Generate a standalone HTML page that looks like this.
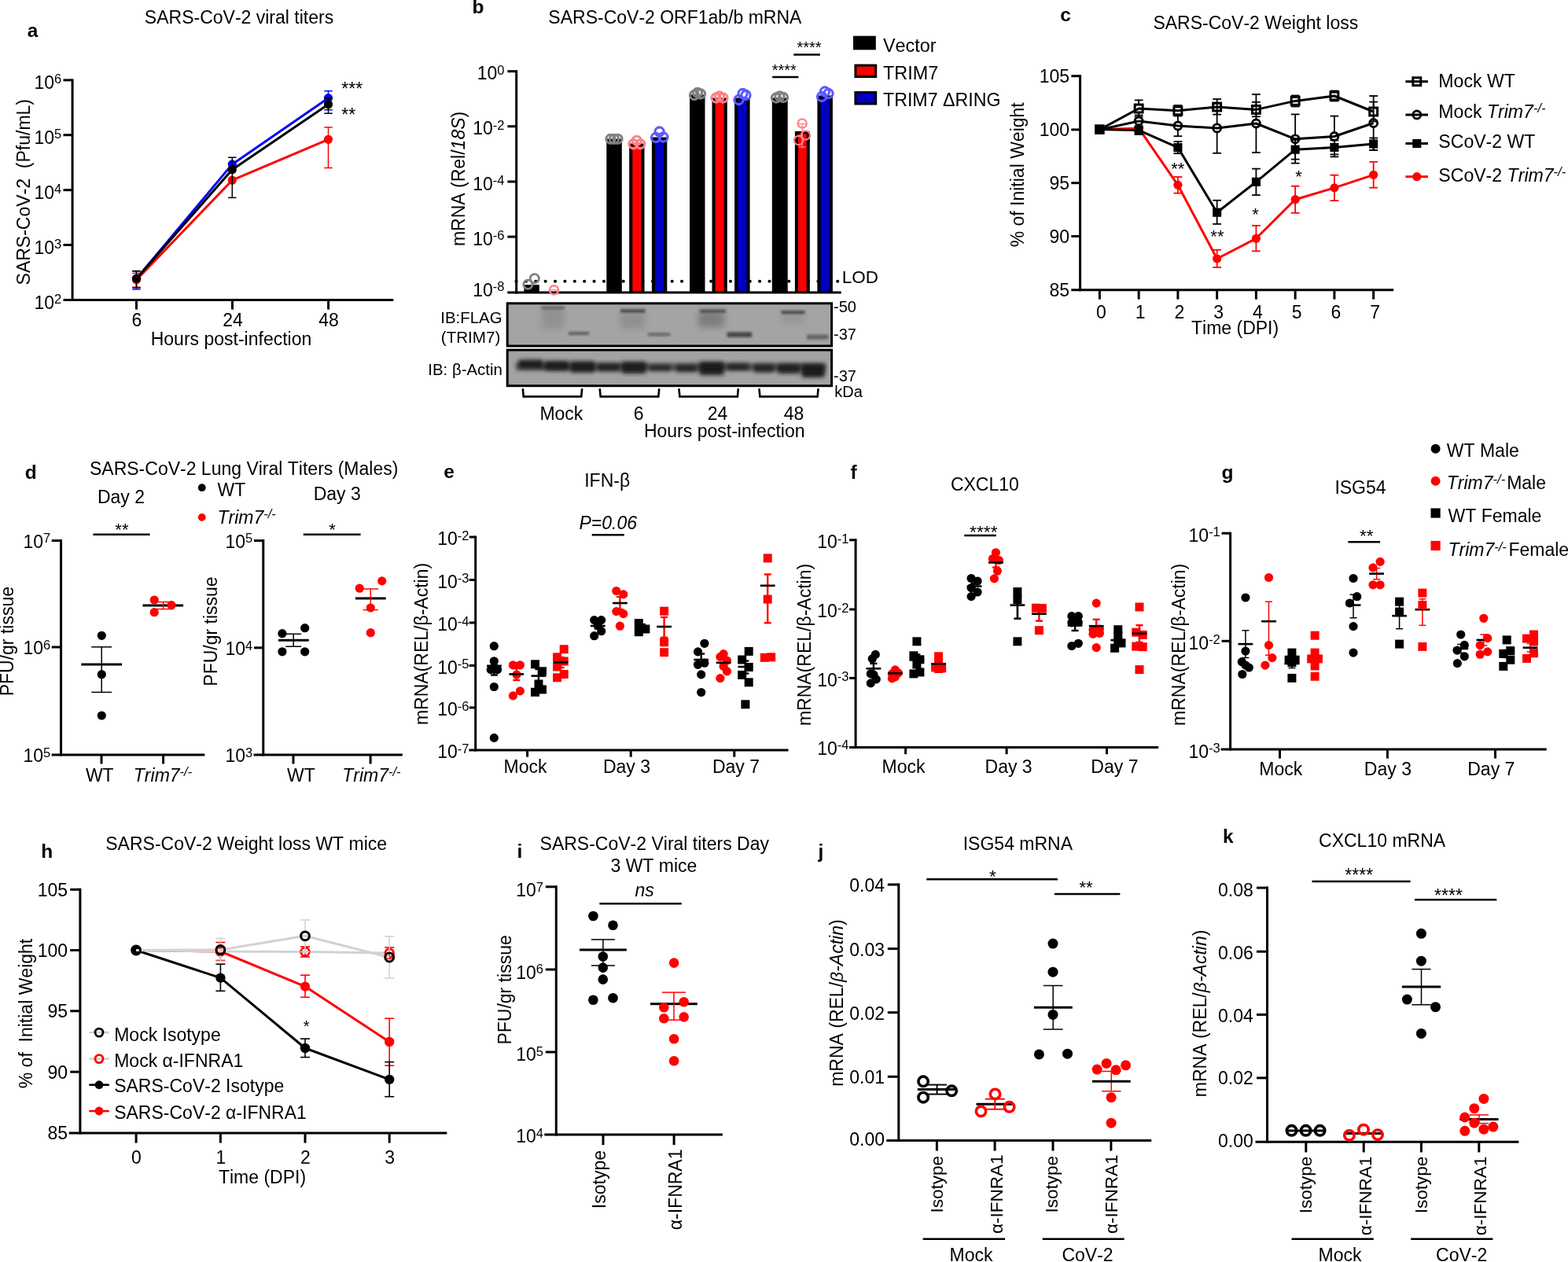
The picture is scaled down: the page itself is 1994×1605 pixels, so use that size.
<!DOCTYPE html>
<html lang="en">
<head>
<meta charset="utf-8">
<title>SARS-CoV-2 TRIM7 figure</title>
<style>
html,body{margin:0;padding:0;background:#fff;}
body{width:1994px;height:1605px;overflow:hidden;}
svg{display:block;}
svg text{font-family:"Liberation Sans",Arial,Helvetica,sans-serif;fill:#000;font-kerning:none;}
</style>
</head>
<body>
<svg xmlns="http://www.w3.org/2000/svg" width="1994" height="1605" viewBox="0 0 1994 1605" font-size="23">
<defs>
<filter id="b1" x="-20%" y="-100%" width="140%" height="300%"><feGaussianBlur stdDeviation="1.6"/></filter>
<filter id="b2" x="-20%" y="-100%" width="140%" height="300%"><feGaussianBlur stdDeviation="2.6"/></filter>
<filter id="b3" x="-30%" y="-100%" width="160%" height="300%"><feGaussianBlur stdDeviation="4.5"/></filter>
<clipPath id="cb1"><rect x="645" y="386" width="413" height="54"/></clipPath>
<clipPath id="cb2"><rect x="645" y="446" width="413" height="45"/></clipPath>
</defs>
<rect width="1994" height="1605" fill="#fff"/>
<g id="panel-a">
<text x="34.8" y="47.4" font-size="24.5" font-weight="bold">a</text>
<text x="304" y="30" text-anchor="middle">SARS-CoV-2 viral titers</text>
<line x1="92.1" y1="100.4" x2="92.1" y2="383.1" stroke="#000" stroke-width="3"/>
<line x1="80.5" y1="101.9" x2="92.1" y2="101.9" stroke="#000" stroke-width="3"/>
<line x1="80.5" y1="171.7" x2="92.1" y2="171.7" stroke="#000" stroke-width="3"/>
<line x1="80.5" y1="241.7" x2="92.1" y2="241.7" stroke="#000" stroke-width="3"/>
<line x1="80.5" y1="311.5" x2="92.1" y2="311.5" stroke="#000" stroke-width="3"/>
<line x1="80.5" y1="381.6" x2="500.3" y2="381.6" stroke="#000" stroke-width="3"/>
<line x1="173.5" y1="381.6" x2="173.5" y2="393.6" stroke="#000" stroke-width="3"/>
<line x1="295.5" y1="381.6" x2="295.5" y2="393.6" stroke="#000" stroke-width="3"/>
<line x1="417.6" y1="381.6" x2="417.6" y2="393.6" stroke="#000" stroke-width="3"/>
<text x="78.3" y="113.1" text-anchor="end">10<tspan font-size="16.5" dy="-6.7">6</tspan></text>
<text x="78.3" y="182.9" text-anchor="end">10<tspan font-size="16.5" dy="-6.7">5</tspan></text>
<text x="78.3" y="252.9" text-anchor="end">10<tspan font-size="16.5" dy="-6.7">4</tspan></text>
<text x="78.3" y="322.7" text-anchor="end">10<tspan font-size="16.5" dy="-6.7">3</tspan></text>
<text x="78.3" y="392.8" text-anchor="end">10<tspan font-size="16.5" dy="-6.7">2</tspan></text>
<text x="174" y="414.7" text-anchor="middle">6</text>
<text x="296" y="414.7" text-anchor="middle">24</text>
<text x="418.1" y="414.7" text-anchor="middle">48</text>
<text x="294" y="439.3" text-anchor="middle">Hours post-infection</text>
<text x="37.6" y="244.2" text-anchor="middle" transform="rotate(-90 37.6 244.2)" xml:space="preserve">SARS-CoV-2  (Pfu/mL)</text>
<line x1="173.5" y1="344.9" x2="173.5" y2="367.9" stroke="#0000ff" stroke-width="1.5"/>
<line x1="168.25" y1="344.9" x2="178.75" y2="344.9" stroke="#0000ff" stroke-width="1.5"/>
<line x1="168.25" y1="367.9" x2="178.75" y2="367.9" stroke="#0000ff" stroke-width="1.5"/>
<line x1="417.5" y1="115.7" x2="417.5" y2="139.7" stroke="#0000ff" stroke-width="1.5"/>
<line x1="412.25" y1="115.7" x2="422.75" y2="115.7" stroke="#0000ff" stroke-width="1.5"/>
<line x1="412.25" y1="139.7" x2="422.75" y2="139.7" stroke="#0000ff" stroke-width="1.5"/>
<polyline points="173.5,354.4 295.3,208.9 417.5,124.7" fill="none" stroke="#0000ff" stroke-width="3" stroke-linejoin="round"/>
<circle cx="173.5" cy="354.4" r="5.6" fill="#0000ff"/>
<circle cx="295.3" cy="208.9" r="5.6" fill="#0000ff"/>
<circle cx="417.5" cy="124.7" r="5.6" fill="#0000ff"/>
<line x1="173.5" y1="347.5" x2="173.5" y2="365.3" stroke="#ff0000" stroke-width="1.5"/>
<line x1="168.25" y1="347.5" x2="178.75" y2="347.5" stroke="#ff0000" stroke-width="1.5"/>
<line x1="168.25" y1="365.3" x2="178.75" y2="365.3" stroke="#ff0000" stroke-width="1.5"/>
<line x1="417.5" y1="161.9" x2="417.5" y2="213.5" stroke="#ff0000" stroke-width="1.5"/>
<line x1="412.25" y1="161.9" x2="422.75" y2="161.9" stroke="#ff0000" stroke-width="1.5"/>
<line x1="412.25" y1="213.5" x2="422.75" y2="213.5" stroke="#ff0000" stroke-width="1.5"/>
<polyline points="173.5,355.9 295.3,229.2 417.5,177.3" fill="none" stroke="#ff0000" stroke-width="3" stroke-linejoin="round"/>
<circle cx="173.5" cy="355.9" r="5.6" fill="#ff0000"/>
<circle cx="295.3" cy="229.2" r="5.6" fill="#ff0000"/>
<circle cx="417.5" cy="177.3" r="5.6" fill="#ff0000"/>
<line x1="173.5" y1="344.6" x2="173.5" y2="365.8" stroke="#000" stroke-width="1.5"/>
<line x1="168.25" y1="344.6" x2="178.75" y2="344.6" stroke="#000" stroke-width="1.5"/>
<line x1="168.25" y1="365.8" x2="178.75" y2="365.8" stroke="#000" stroke-width="1.5"/>
<line x1="295.3" y1="200.2" x2="295.3" y2="251.4" stroke="#000" stroke-width="1.5"/>
<line x1="290.05" y1="200.2" x2="300.55" y2="200.2" stroke="#000" stroke-width="1.5"/>
<line x1="290.05" y1="251.4" x2="300.55" y2="251.4" stroke="#000" stroke-width="1.5"/>
<line x1="417.5" y1="124.9" x2="417.5" y2="144.2" stroke="#000" stroke-width="1.5"/>
<line x1="412.25" y1="124.9" x2="422.75" y2="124.9" stroke="#000" stroke-width="1.5"/>
<line x1="412.25" y1="144.2" x2="422.75" y2="144.2" stroke="#000" stroke-width="1.5"/>
<polyline points="173.5,354.3 295.3,215.7 417.5,132.7" fill="none" stroke="#000" stroke-width="3" stroke-linejoin="round"/>
<circle cx="173.5" cy="354.3" r="5.6" fill="#000"/>
<circle cx="295.3" cy="215.7" r="5.6" fill="#000"/>
<circle cx="417.5" cy="132.7" r="5.6" fill="#000"/>
<text x="434.3" y="120.56">***</text>
<text x="434.3" y="154.06">**</text>
</g>
<g id="panel-b">
<text x="600.6" y="16.6" font-size="24.5" font-weight="bold">b</text>
<text x="858.4" y="30.1" text-anchor="middle">SARS-CoV-2 ORF1ab/b mRNA</text>
<circle cx="656.5" cy="357.8" r="2.05" fill="#000"/>
<circle cx="668.88" cy="357.8" r="2.05" fill="#000"/>
<circle cx="681.27" cy="357.8" r="2.05" fill="#000"/>
<circle cx="693.65" cy="357.8" r="2.05" fill="#000"/>
<circle cx="706.04" cy="357.8" r="2.05" fill="#000"/>
<circle cx="718.42" cy="357.8" r="2.05" fill="#000"/>
<circle cx="730.81" cy="357.8" r="2.05" fill="#000"/>
<circle cx="743.19" cy="357.8" r="2.05" fill="#000"/>
<circle cx="755.58" cy="357.8" r="2.05" fill="#000"/>
<circle cx="767.96" cy="357.8" r="2.05" fill="#000"/>
<circle cx="780.35" cy="357.8" r="2.05" fill="#000"/>
<circle cx="792.73" cy="357.8" r="2.05" fill="#000"/>
<circle cx="805.12" cy="357.8" r="2.05" fill="#000"/>
<circle cx="817.5" cy="357.8" r="2.05" fill="#000"/>
<circle cx="829.89" cy="357.8" r="2.05" fill="#000"/>
<circle cx="842.27" cy="357.8" r="2.05" fill="#000"/>
<circle cx="854.66" cy="357.8" r="2.05" fill="#000"/>
<circle cx="867.04" cy="357.8" r="2.05" fill="#000"/>
<circle cx="879.43" cy="357.8" r="2.05" fill="#000"/>
<circle cx="891.81" cy="357.8" r="2.05" fill="#000"/>
<circle cx="904.2" cy="357.8" r="2.05" fill="#000"/>
<circle cx="916.58" cy="357.8" r="2.05" fill="#000"/>
<circle cx="928.97" cy="357.8" r="2.05" fill="#000"/>
<circle cx="941.35" cy="357.8" r="2.05" fill="#000"/>
<circle cx="953.74" cy="357.8" r="2.05" fill="#000"/>
<circle cx="966.12" cy="357.8" r="2.05" fill="#000"/>
<circle cx="978.51" cy="357.8" r="2.05" fill="#000"/>
<circle cx="990.89" cy="357.8" r="2.05" fill="#000"/>
<circle cx="1003.28" cy="357.8" r="2.05" fill="#000"/>
<circle cx="1015.66" cy="357.8" r="2.05" fill="#000"/>
<circle cx="1028.05" cy="357.8" r="2.05" fill="#000"/>
<circle cx="1040.43" cy="357.8" r="2.05" fill="#000"/>
<circle cx="1052.82" cy="357.8" r="2.05" fill="#000"/>
<circle cx="1065.2" cy="357.8" r="2.05" fill="#000"/>
<text x="1070.7" y="360.4" font-size="22.5">LOD</text>
<rect x="666.4" y="362.2" width="19.4" height="9.7" fill="#000"/>
<rect x="771.3" y="176.5" width="19.5" height="195.4" fill="#000"/>
<rect x="800.2" y="182.5" width="19.3" height="189.4" fill="#000"/>
<rect x="804.3" y="186.1" width="11.1" height="185.8" fill="#ff0000"/>
<rect x="828.9" y="174.5" width="19.4" height="197.4" fill="#000"/>
<rect x="833" y="178.1" width="11.2" height="193.8" fill="#0000c0"/>
<rect x="877" y="120.4" width="19.5" height="251.5" fill="#000"/>
<rect x="905.5" y="124.4" width="19.3" height="247.5" fill="#000"/>
<rect x="909.6" y="128" width="11.1" height="243.9" fill="#ff0000"/>
<rect x="934.1" y="124.4" width="19.5" height="247.5" fill="#000"/>
<rect x="938.2" y="128" width="11.3" height="243.9" fill="#0000c0"/>
<rect x="981.8" y="124.4" width="19.9" height="247.5" fill="#000"/>
<rect x="1010.9" y="166.9" width="18.9" height="205" fill="#000"/>
<rect x="1015" y="170.5" width="10.7" height="201.4" fill="#ff0000"/>
<rect x="1039.4" y="121.4" width="19.5" height="250.5" fill="#000"/>
<rect x="1043.5" y="125" width="11.3" height="246.9" fill="#0000c0"/>
<line x1="656.7" y1="89.2" x2="656.7" y2="373.4" stroke="#000" stroke-width="3"/>
<line x1="645.4" y1="90.7" x2="656.7" y2="90.7" stroke="#000" stroke-width="3"/>
<line x1="645.4" y1="160.7" x2="656.7" y2="160.7" stroke="#000" stroke-width="3"/>
<line x1="645.4" y1="231" x2="656.7" y2="231" stroke="#000" stroke-width="3"/>
<line x1="645.4" y1="301.1" x2="656.7" y2="301.1" stroke="#000" stroke-width="3"/>
<line x1="645.3" y1="371.9" x2="1069.7" y2="371.9" stroke="#000" stroke-width="3"/>
<text x="641.5" y="101.4" text-anchor="end">10<tspan font-size="16.5" dy="-6.7">0</tspan></text>
<text x="641.5" y="171.4" text-anchor="end">10<tspan font-size="16.5" dy="-6.7">-2</tspan></text>
<text x="641.5" y="241.7" text-anchor="end">10<tspan font-size="16.5" dy="-6.7">-4</tspan></text>
<text x="641.5" y="311.8" text-anchor="end">10<tspan font-size="16.5" dy="-6.7">-6</tspan></text>
<text x="641.5" y="377.1" text-anchor="end">10<tspan font-size="16.5" dy="-6.7">-8</tspan></text>
<text x="591.2" y="227.4" text-anchor="middle" transform="rotate(-90 591.2 227.4)">mRNA (Rel/<tspan font-style="italic">18S</tspan>)</text>
<circle cx="671.4" cy="361.8" r="5.6" fill="none" stroke="#808080" stroke-width="2.8"/>
<circle cx="679.8" cy="354.2" r="5.6" fill="none" stroke="#808080" stroke-width="2.8"/>
<circle cx="704.5" cy="368.9" r="5.6" fill="none" stroke="#ff8088" stroke-width="2.4"/>
<line x1="700" y1="368.7" x2="709" y2="368.7" stroke="#ff8088" stroke-width="1.3"/>
<circle cx="776.5" cy="176.8" r="5.6" fill="none" stroke="#808080" stroke-width="3.1"/>
<circle cx="781" cy="176.8" r="5.6" fill="none" stroke="#808080" stroke-width="3.1"/>
<circle cx="785.5" cy="176.8" r="5.6" fill="none" stroke="#808080" stroke-width="3.1"/>
<circle cx="805.5" cy="183.3" r="5.6" fill="none" stroke="#ff8088" stroke-width="3.1"/>
<circle cx="809.8" cy="178.8" r="5.6" fill="none" stroke="#ff8088" stroke-width="3.1"/>
<circle cx="814.2" cy="183.3" r="5.6" fill="none" stroke="#ff8088" stroke-width="3.1"/>
<circle cx="838.6" cy="167.5" r="5.6" fill="none" stroke="#5a5aff" stroke-width="3.1"/>
<circle cx="834" cy="175" r="5.6" fill="none" stroke="#5a5aff" stroke-width="3.1"/>
<circle cx="843.5" cy="174.5" r="5.6" fill="none" stroke="#5a5aff" stroke-width="3.1"/>
<circle cx="883" cy="121" r="5.6" fill="none" stroke="#808080" stroke-width="3.1"/>
<circle cx="887" cy="118" r="5.6" fill="none" stroke="#808080" stroke-width="3.1"/>
<circle cx="891" cy="119.5" r="5.6" fill="none" stroke="#808080" stroke-width="3.1"/>
<circle cx="910.5" cy="124.5" r="5.6" fill="none" stroke="#ff8088" stroke-width="3.1"/>
<circle cx="915" cy="122.5" r="5.6" fill="none" stroke="#ff8088" stroke-width="3.1"/>
<circle cx="919.5" cy="124.5" r="5.6" fill="none" stroke="#ff8088" stroke-width="3.1"/>
<circle cx="939.5" cy="127" r="5.6" fill="none" stroke="#5a5aff" stroke-width="3.1"/>
<circle cx="944.5" cy="119" r="5.6" fill="none" stroke="#5a5aff" stroke-width="3.1"/>
<circle cx="948.5" cy="121" r="5.6" fill="none" stroke="#5a5aff" stroke-width="3.1"/>
<circle cx="987" cy="124.5" r="5.6" fill="none" stroke="#808080" stroke-width="3.1"/>
<circle cx="991.5" cy="122.5" r="5.6" fill="none" stroke="#808080" stroke-width="3.1"/>
<circle cx="996" cy="124" r="5.6" fill="none" stroke="#808080" stroke-width="3.1"/>
<line x1="1020.3" y1="157" x2="1020.3" y2="187" stroke="#ff8088" stroke-width="1.3"/>
<line x1="1016" y1="187" x2="1024.5" y2="187" stroke="#ff8088" stroke-width="1.3"/>
<line x1="1016" y1="157.5" x2="1024.5" y2="157.5" stroke="#ff8088" stroke-width="1.3"/>
<circle cx="1020.2" cy="157" r="5.6" fill="none" stroke="#ff8088" stroke-width="2.3"/>
<circle cx="1024.5" cy="172" r="5.6" fill="none" stroke="#ff8088" stroke-width="2.3"/>
<circle cx="1015.5" cy="178.5" r="5.6" fill="none" stroke="#ff8088" stroke-width="2.3"/>
<circle cx="1045" cy="123" r="5.6" fill="none" stroke="#5a5aff" stroke-width="3.1"/>
<circle cx="1049" cy="116.5" r="5.6" fill="none" stroke="#5a5aff" stroke-width="3.1"/>
<circle cx="1053.5" cy="119" r="5.6" fill="none" stroke="#5a5aff" stroke-width="3.1"/>
<line x1="982.2" y1="98.1" x2="1015.4" y2="98.1" stroke="#000" stroke-width="2.5"/>
<text x="997.3" y="96.2" font-size="20" text-anchor="middle">****</text>
<line x1="1009.3" y1="69.4" x2="1042.9" y2="69.4" stroke="#000" stroke-width="2.5"/>
<text x="1029" y="67.4" font-size="20" text-anchor="middle">****</text>
<rect x="1085" y="45.7" width="28.8" height="17.7" fill="#000"/>
<rect x="1087.9" y="83.1" width="25.8" height="14.5" fill="#ff0000" stroke="#000" stroke-width="3"/>
<rect x="1087.9" y="117.5" width="25.8" height="14.5" fill="#0000c0" stroke="#000" stroke-width="3"/>
<text x="1123" y="65.6" font-size="23.4">Vector</text>
<text x="1123" y="100.7" font-size="23.4">TRIM7</text>
<text x="1123" y="134.8" font-size="23.2">TRIM7 ΔRING</text>
<rect x="645.2" y="385.8" width="412.4" height="54.2" fill="#a4a4a4" stroke="#000" stroke-width="3"/>
<g clip-path="url(#cb1)">
<rect x="689" y="392" width="28" height="26" fill="#303030" opacity="0.16" filter="url(#b3)"/>
<rect x="688.5" y="389.7" width="29.5" height="3.6" fill="#101010" opacity="0.4" filter="url(#b1)"/>
<rect x="723" y="422.2" width="26" height="3.6" fill="#101010" opacity="0.5" filter="url(#b1)"/>
<rect x="789" y="398" width="31" height="20" fill="#303030" opacity="0.18" filter="url(#b3)"/>
<rect x="789" y="393.3" width="31.5" height="4.2" fill="#101010" opacity="0.62" filter="url(#b1)"/>
<rect x="824" y="423.6" width="28.5" height="3.6" fill="#101010" opacity="0.45" filter="url(#b1)"/>
<rect x="888" y="396" width="33" height="20" fill="#303030" opacity="0.34" filter="url(#b3)"/>
<rect x="890" y="393.5" width="33" height="4.2" fill="#101010" opacity="0.5" filter="url(#b1)"/>
<rect x="924.5" y="422.35" width="31.5" height="6.5" fill="#101010" opacity="0.62" filter="url(#b1)"/>
<rect x="994" y="400" width="28" height="12" fill="#303030" opacity="0.12" filter="url(#b3)"/>
<rect x="993.5" y="395.2" width="30" height="4" fill="#101010" opacity="0.62" filter="url(#b1)"/>
<rect x="1026" y="425.6" width="27.5" height="6" fill="#101010" opacity="0.42" filter="url(#b1)"/>
</g>
<rect x="645.2" y="445.1" width="412.4" height="45.6" fill="#a2a2a2" stroke="#000" stroke-width="3"/>
<g clip-path="url(#cb2)">
<rect x="659" y="457.5" width="32" height="11" rx="4" fill="#141414" opacity="0.92" filter="url(#b2)"/>
<rect x="692" y="459" width="32" height="12" rx="4" fill="#141414" opacity="0.9" filter="url(#b2)"/>
<rect x="725" y="459.5" width="32" height="14" rx="4" fill="#141414" opacity="0.9" filter="url(#b2)"/>
<rect x="759" y="462" width="30" height="10" rx="4" fill="#141414" opacity="0.8" filter="url(#b2)"/>
<rect x="790" y="460" width="32" height="15" rx="4" fill="#141414" opacity="0.88" filter="url(#b2)"/>
<rect x="825" y="464.5" width="29" height="7" rx="4" fill="#141414" opacity="0.78" filter="url(#b2)"/>
<rect x="859" y="464" width="28" height="9" rx="4" fill="#141414" opacity="0.78" filter="url(#b2)"/>
<rect x="889" y="460" width="32" height="17" rx="4" fill="#141414" opacity="0.92" filter="url(#b2)"/>
<rect x="924" y="462.5" width="29" height="8" rx="4" fill="#141414" opacity="0.82" filter="url(#b2)"/>
<rect x="958" y="463.5" width="27" height="10" rx="4" fill="#141414" opacity="0.82" filter="url(#b2)"/>
<rect x="988" y="463" width="30" height="12" rx="4" fill="#141414" opacity="0.86" filter="url(#b2)"/>
<rect x="1019" y="463" width="30" height="17" rx="4" fill="#141414" opacity="0.95" filter="url(#b2)"/>
<rect x="656" y="462" width="394" height="9" fill="#181818" opacity="0.55" filter="url(#b2)"/>
</g>
<text x="638.5" y="410.8" font-size="20.4" text-anchor="end">IB:FLAG</text>
<text x="636.3" y="435.5" font-size="20.6" text-anchor="end">(TRIM7)</text>
<text x="638.8" y="476.6" font-size="20.4" text-anchor="end">IB: β-Actin</text>
<text x="1060" y="397.4" font-size="20">-50</text>
<text x="1060" y="432.3" font-size="20">-37</text>
<text x="1060" y="484.6" font-size="20">-37</text>
<text x="1061.3" y="504.7" font-size="20">kDa</text>
<polyline points="664.8,494.2 665.8,504.4 739.2,504.4 740.2,494.2" fill="none" stroke="#000" stroke-width="2.6"/>
<polyline points="762.7,494.2 763.7,504.4 837.3,504.4 838.3,494.2" fill="none" stroke="#000" stroke-width="2.6"/>
<polyline points="863.4,494.2 864.4,504.4 937.9,504.4 938.9,494.2" fill="none" stroke="#000" stroke-width="2.6"/>
<polyline points="965.4,494.2 966.4,504.4 1039.6,504.4 1040.6,494.2" fill="none" stroke="#000" stroke-width="2.6"/>
<text x="713.9" y="533.8" text-anchor="middle">Mock</text>
<text x="812.2" y="533.8" text-anchor="middle">6</text>
<text x="912.6" y="533.8" text-anchor="middle">24</text>
<text x="1009.5" y="533.8" text-anchor="middle">48</text>
<text x="921.2" y="555.8" text-anchor="middle">Hours post-infection</text>
</g>
<g id="panel-c">
<text x="1348.2" y="26.5" font-size="24.5" font-weight="bold">c</text>
<text x="1596.8" y="36.7" text-anchor="middle">SARS-CoV-2 Weight loss</text>
<line x1="1373.6" y1="95.2" x2="1373.6" y2="370.3" stroke="#000" stroke-width="3"/>
<line x1="1362.3" y1="96.7" x2="1373.6" y2="96.7" stroke="#000" stroke-width="3"/>
<line x1="1362.3" y1="164.9" x2="1373.6" y2="164.9" stroke="#000" stroke-width="3"/>
<line x1="1362.3" y1="232.7" x2="1373.6" y2="232.7" stroke="#000" stroke-width="3"/>
<line x1="1362.3" y1="300.5" x2="1373.6" y2="300.5" stroke="#000" stroke-width="3"/>
<line x1="1362.3" y1="368.8" x2="1772.2" y2="368.8" stroke="#000" stroke-width="3"/>
<line x1="1398.4" y1="368.8" x2="1398.4" y2="380.7" stroke="#000" stroke-width="3"/>
<line x1="1448.15" y1="368.8" x2="1448.15" y2="380.7" stroke="#000" stroke-width="3"/>
<line x1="1497.9" y1="368.8" x2="1497.9" y2="380.7" stroke="#000" stroke-width="3"/>
<line x1="1547.65" y1="368.8" x2="1547.65" y2="380.7" stroke="#000" stroke-width="3"/>
<line x1="1597.4" y1="368.8" x2="1597.4" y2="380.7" stroke="#000" stroke-width="3"/>
<line x1="1647.15" y1="368.8" x2="1647.15" y2="380.7" stroke="#000" stroke-width="3"/>
<line x1="1696.9" y1="368.8" x2="1696.9" y2="380.7" stroke="#000" stroke-width="3"/>
<line x1="1746.65" y1="368.8" x2="1746.65" y2="380.7" stroke="#000" stroke-width="3"/>
<text x="1360" y="105" text-anchor="end">105</text>
<text x="1360" y="173.2" text-anchor="end">100</text>
<text x="1360" y="241" text-anchor="end">95</text>
<text x="1360" y="308.8" text-anchor="end">90</text>
<text x="1360" y="376.8" text-anchor="end">85</text>
<text x="1400.3" y="405" text-anchor="middle">0</text>
<text x="1450.05" y="405" text-anchor="middle">1</text>
<text x="1499.8" y="405" text-anchor="middle">2</text>
<text x="1549.55" y="405" text-anchor="middle">3</text>
<text x="1599.3" y="405" text-anchor="middle">4</text>
<text x="1649.05" y="405" text-anchor="middle">5</text>
<text x="1698.8" y="405" text-anchor="middle">6</text>
<text x="1748.55" y="405" text-anchor="middle">7</text>
<text x="1570.6" y="424.7" text-anchor="middle">Time (DPI)</text>
<text x="1302" y="222.3" text-anchor="middle" transform="rotate(-90 1302 222.3)">% of Initial Weight</text>
<line x1="1448.15" y1="160" x2="1448.15" y2="167" stroke="#ff0000" stroke-width="1.8"/>
<line x1="1442.75" y1="160" x2="1453.55" y2="160" stroke="#ff0000" stroke-width="1.8"/>
<line x1="1442.75" y1="167" x2="1453.55" y2="167" stroke="#ff0000" stroke-width="1.8"/>
<line x1="1497.9" y1="225" x2="1497.9" y2="245.7" stroke="#ff0000" stroke-width="1.8"/>
<line x1="1492.5" y1="225" x2="1503.3" y2="225" stroke="#ff0000" stroke-width="1.8"/>
<line x1="1492.5" y1="245.7" x2="1503.3" y2="245.7" stroke="#ff0000" stroke-width="1.8"/>
<line x1="1547.65" y1="317.8" x2="1547.65" y2="340" stroke="#ff0000" stroke-width="1.8"/>
<line x1="1542.25" y1="317.8" x2="1553.05" y2="317.8" stroke="#ff0000" stroke-width="1.8"/>
<line x1="1542.25" y1="340" x2="1553.05" y2="340" stroke="#ff0000" stroke-width="1.8"/>
<line x1="1597.4" y1="286.9" x2="1597.4" y2="319.4" stroke="#ff0000" stroke-width="1.8"/>
<line x1="1592" y1="286.9" x2="1602.8" y2="286.9" stroke="#ff0000" stroke-width="1.8"/>
<line x1="1592" y1="319.4" x2="1602.8" y2="319.4" stroke="#ff0000" stroke-width="1.8"/>
<line x1="1647.15" y1="236.7" x2="1647.15" y2="270.8" stroke="#ff0000" stroke-width="1.8"/>
<line x1="1641.75" y1="236.7" x2="1652.55" y2="236.7" stroke="#ff0000" stroke-width="1.8"/>
<line x1="1641.75" y1="270.8" x2="1652.55" y2="270.8" stroke="#ff0000" stroke-width="1.8"/>
<line x1="1696.9" y1="222.7" x2="1696.9" y2="255.2" stroke="#ff0000" stroke-width="1.8"/>
<line x1="1691.5" y1="222.7" x2="1702.3" y2="222.7" stroke="#ff0000" stroke-width="1.8"/>
<line x1="1691.5" y1="255.2" x2="1702.3" y2="255.2" stroke="#ff0000" stroke-width="1.8"/>
<line x1="1746.65" y1="205.8" x2="1746.65" y2="238.7" stroke="#ff0000" stroke-width="1.8"/>
<line x1="1741.25" y1="205.8" x2="1752.05" y2="205.8" stroke="#ff0000" stroke-width="1.8"/>
<line x1="1741.25" y1="238.7" x2="1752.05" y2="238.7" stroke="#ff0000" stroke-width="1.8"/>
<polyline points="1398.4,164.6 1448.15,163.2 1497.9,235.3 1547.65,329 1597.4,303.3 1647.15,253.7 1696.9,238.9 1746.65,222.3" fill="none" stroke="#ff0000" stroke-width="3" stroke-linejoin="round"/>
<circle cx="1398.4" cy="164.6" r="5.6" fill="#ff0000"/>
<circle cx="1448.15" cy="163.2" r="5.6" fill="#ff0000"/>
<circle cx="1497.9" cy="235.3" r="5.6" fill="#ff0000"/>
<circle cx="1547.65" cy="329" r="5.6" fill="#ff0000"/>
<circle cx="1597.4" cy="303.3" r="5.6" fill="#ff0000"/>
<circle cx="1647.15" cy="253.7" r="5.6" fill="#ff0000"/>
<circle cx="1696.9" cy="238.9" r="5.6" fill="#ff0000"/>
<circle cx="1746.65" cy="222.3" r="5.6" fill="#ff0000"/>
<line x1="1448.15" y1="162" x2="1448.15" y2="171" stroke="#000" stroke-width="1.8"/>
<line x1="1442.75" y1="162" x2="1453.55" y2="162" stroke="#000" stroke-width="1.8"/>
<line x1="1442.75" y1="171" x2="1453.55" y2="171" stroke="#000" stroke-width="1.8"/>
<line x1="1497.9" y1="180" x2="1497.9" y2="195.2" stroke="#000" stroke-width="1.8"/>
<line x1="1492.5" y1="180" x2="1503.3" y2="180" stroke="#000" stroke-width="1.8"/>
<line x1="1492.5" y1="195.2" x2="1503.3" y2="195.2" stroke="#000" stroke-width="1.8"/>
<line x1="1547.65" y1="254.8" x2="1547.65" y2="284.9" stroke="#000" stroke-width="1.8"/>
<line x1="1542.25" y1="254.8" x2="1553.05" y2="254.8" stroke="#000" stroke-width="1.8"/>
<line x1="1542.25" y1="284.9" x2="1553.05" y2="284.9" stroke="#000" stroke-width="1.8"/>
<line x1="1597.4" y1="214.6" x2="1597.4" y2="248.1" stroke="#000" stroke-width="1.8"/>
<line x1="1592" y1="214.6" x2="1602.8" y2="214.6" stroke="#000" stroke-width="1.8"/>
<line x1="1592" y1="248.1" x2="1602.8" y2="248.1" stroke="#000" stroke-width="1.8"/>
<line x1="1647.15" y1="178" x2="1647.15" y2="202.6" stroke="#000" stroke-width="1.8"/>
<line x1="1641.75" y1="178" x2="1652.55" y2="178" stroke="#000" stroke-width="1.8"/>
<line x1="1641.75" y1="202.6" x2="1652.55" y2="202.6" stroke="#000" stroke-width="1.8"/>
<line x1="1696.9" y1="178.5" x2="1696.9" y2="196.4" stroke="#000" stroke-width="1.8"/>
<line x1="1691.5" y1="178.5" x2="1702.3" y2="178.5" stroke="#000" stroke-width="1.8"/>
<line x1="1691.5" y1="196.4" x2="1702.3" y2="196.4" stroke="#000" stroke-width="1.8"/>
<line x1="1746.65" y1="175.5" x2="1746.65" y2="191" stroke="#000" stroke-width="1.8"/>
<line x1="1741.25" y1="175.5" x2="1752.05" y2="175.5" stroke="#000" stroke-width="1.8"/>
<line x1="1741.25" y1="191" x2="1752.05" y2="191" stroke="#000" stroke-width="1.8"/>
<polyline points="1398.4,164.6 1448.15,165.7 1497.9,187.6 1547.65,270.2 1597.4,231.3 1647.15,190.2 1696.9,187.4 1746.65,183" fill="none" stroke="#000" stroke-width="3" stroke-linejoin="round"/>
<rect x="1392.85" y="159.05" width="11.1" height="11.1" fill="#000"/>
<rect x="1442.6" y="160.15" width="11.1" height="11.1" fill="#000"/>
<rect x="1492.35" y="182.05" width="11.1" height="11.1" fill="#000"/>
<rect x="1542.1" y="264.65" width="11.1" height="11.1" fill="#000"/>
<rect x="1591.85" y="225.75" width="11.1" height="11.1" fill="#000"/>
<rect x="1641.6" y="184.65" width="11.1" height="11.1" fill="#000"/>
<rect x="1691.35" y="181.85" width="11.1" height="11.1" fill="#000"/>
<rect x="1741.1" y="177.45" width="11.1" height="11.1" fill="#000"/>
<line x1="1448.15" y1="146.5" x2="1448.15" y2="148.5" stroke="#000" stroke-width="1.8"/>
<line x1="1442.75" y1="146.5" x2="1453.55" y2="146.5" stroke="#000" stroke-width="1.8"/>
<line x1="1448.15" y1="159.5" x2="1448.15" y2="161.5" stroke="#000" stroke-width="1.8"/>
<line x1="1442.75" y1="161.5" x2="1453.55" y2="161.5" stroke="#000" stroke-width="1.8"/>
<line x1="1497.9" y1="147" x2="1497.9" y2="154.5" stroke="#000" stroke-width="1.8"/>
<line x1="1492.5" y1="147" x2="1503.3" y2="147" stroke="#000" stroke-width="1.8"/>
<line x1="1497.9" y1="165.5" x2="1497.9" y2="173.2" stroke="#000" stroke-width="1.8"/>
<line x1="1492.5" y1="173.2" x2="1503.3" y2="173.2" stroke="#000" stroke-width="1.8"/>
<line x1="1547.65" y1="131.5" x2="1547.65" y2="157.4" stroke="#000" stroke-width="1.8"/>
<line x1="1542.25" y1="131.5" x2="1553.05" y2="131.5" stroke="#000" stroke-width="1.8"/>
<line x1="1547.65" y1="168.4" x2="1547.65" y2="194.8" stroke="#000" stroke-width="1.8"/>
<line x1="1542.25" y1="194.8" x2="1553.05" y2="194.8" stroke="#000" stroke-width="1.8"/>
<line x1="1597.4" y1="120" x2="1597.4" y2="151.5" stroke="#000" stroke-width="1.8"/>
<line x1="1592" y1="120" x2="1602.8" y2="120" stroke="#000" stroke-width="1.8"/>
<line x1="1597.4" y1="162.5" x2="1597.4" y2="194" stroke="#000" stroke-width="1.8"/>
<line x1="1592" y1="194" x2="1602.8" y2="194" stroke="#000" stroke-width="1.8"/>
<line x1="1647.15" y1="145.4" x2="1647.15" y2="171.3" stroke="#000" stroke-width="1.8"/>
<line x1="1641.75" y1="145.4" x2="1652.55" y2="145.4" stroke="#000" stroke-width="1.8"/>
<line x1="1647.15" y1="182.3" x2="1647.15" y2="207.6" stroke="#000" stroke-width="1.8"/>
<line x1="1641.75" y1="207.6" x2="1652.55" y2="207.6" stroke="#000" stroke-width="1.8"/>
<line x1="1696.9" y1="147.6" x2="1696.9" y2="168" stroke="#000" stroke-width="1.8"/>
<line x1="1691.5" y1="147.6" x2="1702.3" y2="147.6" stroke="#000" stroke-width="1.8"/>
<line x1="1696.9" y1="179" x2="1696.9" y2="199.4" stroke="#000" stroke-width="1.8"/>
<line x1="1691.5" y1="199.4" x2="1702.3" y2="199.4" stroke="#000" stroke-width="1.8"/>
<line x1="1746.65" y1="122" x2="1746.65" y2="151" stroke="#000" stroke-width="1.8"/>
<line x1="1741.25" y1="122" x2="1752.05" y2="122" stroke="#000" stroke-width="1.8"/>
<line x1="1746.65" y1="162" x2="1746.65" y2="191" stroke="#000" stroke-width="1.8"/>
<line x1="1741.25" y1="191" x2="1752.05" y2="191" stroke="#000" stroke-width="1.8"/>
<polyline points="1448.15,154 1497.9,160 1547.65,162.9 1597.4,157 1647.15,176.8 1696.9,173.5 1746.65,156.5" fill="none" stroke="#000" stroke-width="3" stroke-linejoin="round"/>
<line x1="1398.4" y1="164.9" x2="1448.15" y2="154" stroke="#000" stroke-width="3"/>
<circle cx="1448.15" cy="154" r="5" fill="none" stroke="#000" stroke-width="2.8"/>
<circle cx="1497.9" cy="160" r="5" fill="none" stroke="#000" stroke-width="2.8"/>
<circle cx="1547.65" cy="162.9" r="5" fill="none" stroke="#000" stroke-width="2.8"/>
<circle cx="1597.4" cy="157" r="5" fill="none" stroke="#000" stroke-width="2.8"/>
<circle cx="1647.15" cy="176.8" r="5" fill="none" stroke="#000" stroke-width="2.8"/>
<circle cx="1696.9" cy="173.5" r="5" fill="none" stroke="#000" stroke-width="2.8"/>
<circle cx="1746.65" cy="156.5" r="5" fill="none" stroke="#000" stroke-width="2.8"/>
<line x1="1448.15" y1="127.4" x2="1448.15" y2="132.2" stroke="#000" stroke-width="1.8"/>
<line x1="1442.75" y1="127.4" x2="1453.55" y2="127.4" stroke="#000" stroke-width="1.8"/>
<line x1="1448.15" y1="143.8" x2="1448.15" y2="148.5" stroke="#000" stroke-width="1.8"/>
<line x1="1442.75" y1="148.5" x2="1453.55" y2="148.5" stroke="#000" stroke-width="1.8"/>
<line x1="1497.9" y1="134" x2="1497.9" y2="135" stroke="#000" stroke-width="1.8"/>
<line x1="1492.5" y1="134" x2="1503.3" y2="134" stroke="#000" stroke-width="1.8"/>
<line x1="1497.9" y1="146.6" x2="1497.9" y2="147.5" stroke="#000" stroke-width="1.8"/>
<line x1="1492.5" y1="147.5" x2="1503.3" y2="147.5" stroke="#000" stroke-width="1.8"/>
<line x1="1547.65" y1="126" x2="1547.65" y2="130.2" stroke="#000" stroke-width="1.8"/>
<line x1="1542.25" y1="126" x2="1553.05" y2="126" stroke="#000" stroke-width="1.8"/>
<line x1="1547.65" y1="141.8" x2="1547.65" y2="145.6" stroke="#000" stroke-width="1.8"/>
<line x1="1542.25" y1="145.6" x2="1553.05" y2="145.6" stroke="#000" stroke-width="1.8"/>
<line x1="1597.4" y1="129.8" x2="1597.4" y2="133.6" stroke="#000" stroke-width="1.8"/>
<line x1="1592" y1="129.8" x2="1602.8" y2="129.8" stroke="#000" stroke-width="1.8"/>
<line x1="1597.4" y1="145.2" x2="1597.4" y2="148.3" stroke="#000" stroke-width="1.8"/>
<line x1="1592" y1="148.3" x2="1602.8" y2="148.3" stroke="#000" stroke-width="1.8"/>
<line x1="1647.15" y1="121.5" x2="1647.15" y2="122.6" stroke="#000" stroke-width="1.8"/>
<line x1="1641.75" y1="121.5" x2="1652.55" y2="121.5" stroke="#000" stroke-width="1.8"/>
<line x1="1647.15" y1="134.2" x2="1647.15" y2="135.5" stroke="#000" stroke-width="1.8"/>
<line x1="1641.75" y1="135.5" x2="1652.55" y2="135.5" stroke="#000" stroke-width="1.8"/>
<line x1="1696.9" y1="115.5" x2="1696.9" y2="116.2" stroke="#000" stroke-width="1.8"/>
<line x1="1691.5" y1="115.5" x2="1702.3" y2="115.5" stroke="#000" stroke-width="1.8"/>
<line x1="1696.9" y1="127.8" x2="1696.9" y2="128.5" stroke="#000" stroke-width="1.8"/>
<line x1="1691.5" y1="128.5" x2="1702.3" y2="128.5" stroke="#000" stroke-width="1.8"/>
<line x1="1746.65" y1="129.6" x2="1746.65" y2="136.2" stroke="#000" stroke-width="1.8"/>
<line x1="1741.25" y1="129.6" x2="1752.05" y2="129.6" stroke="#000" stroke-width="1.8"/>
<line x1="1746.65" y1="147.8" x2="1746.65" y2="154.5" stroke="#000" stroke-width="1.8"/>
<line x1="1741.25" y1="154.5" x2="1752.05" y2="154.5" stroke="#000" stroke-width="1.8"/>
<polyline points="1398.4,164.9 1448.15,138 1497.9,140.8 1547.65,136 1597.4,139.4 1647.15,128.4 1696.9,122 1746.65,142" fill="none" stroke="#000" stroke-width="3" stroke-linejoin="round"/>
<rect x="1443.2" y="133.05" width="9.9" height="9.9" fill="none" stroke="#000" stroke-width="3"/>
<rect x="1492.95" y="135.85" width="9.9" height="9.9" fill="none" stroke="#000" stroke-width="3"/>
<rect x="1542.7" y="131.05" width="9.9" height="9.9" fill="none" stroke="#000" stroke-width="3"/>
<rect x="1592.45" y="134.45" width="9.9" height="9.9" fill="none" stroke="#000" stroke-width="3"/>
<rect x="1642.2" y="123.45" width="9.9" height="9.9" fill="none" stroke="#000" stroke-width="3"/>
<rect x="1691.95" y="117.05" width="9.9" height="9.9" fill="none" stroke="#000" stroke-width="3"/>
<rect x="1741.7" y="137.05" width="9.9" height="9.9" fill="none" stroke="#000" stroke-width="3"/>
<rect x="1392.1" y="158.3" width="12.6" height="12.6" fill="#000"/>
<text x="1497.7" y="222.04" font-size="22" text-anchor="middle">**</text>
<text x="1547.9" y="308.34" font-size="22" text-anchor="middle">**</text>
<text x="1596.6" y="280.04" font-size="22" text-anchor="middle">*</text>
<text x="1651.5" y="232.04" font-size="22" text-anchor="middle">*</text>
<line x1="1787.4" y1="103.7" x2="1816" y2="103.7" stroke="#000" stroke-width="3"/>
<rect x="1796.85" y="98.75" width="9.9" height="9.9" fill="none" stroke="#000" stroke-width="3"/>
<line x1="1787.4" y1="146" x2="1816" y2="146" stroke="#000" stroke-width="3"/>
<circle cx="1801.8" cy="146" r="5" fill="none" stroke="#000" stroke-width="2.8"/>
<line x1="1787.4" y1="182.5" x2="1816" y2="182.5" stroke="#000" stroke-width="3"/>
<rect x="1796.25" y="176.95" width="11.1" height="11.1" fill="#000"/>
<line x1="1787.4" y1="224.7" x2="1816" y2="224.7" stroke="#ff0000" stroke-width="3"/>
<circle cx="1801.8" cy="224.7" r="5.6" fill="#ff0000"/>
<text x="1829.3" y="110.7" font-size="23.1">Mock WT</text>
<text x="1829.3" y="150.1" font-size="23.1">Mock <tspan font-style="italic">Trim7</tspan><tspan font-style="italic" font-size="16.5" dy="-6.9">-/-</tspan></text>
<text x="1829.3" y="187.9" font-size="23.1">SCoV-2 WT</text>
<text x="1829.3" y="230.6" font-size="23.1">SCoV-2 <tspan font-style="italic">Trim7</tspan><tspan font-style="italic" font-size="16.5" dy="-6.9">-/-</tspan></text>
</g>
<g id="panel-d">
<text x="31.8" y="609" font-size="24.5" font-weight="bold">d</text>
<text x="310.2" y="603.7" text-anchor="middle">SARS-CoV-2 Lung Viral Titers (Males)</text>
<text x="154" y="640.2" text-anchor="middle">Day 2</text>
<text x="428.7" y="635.8" text-anchor="middle">Day 3</text>
<circle cx="256.8" cy="620.2" r="4.9" fill="#000"/>
<text x="276.5" y="630.6">WT</text>
<circle cx="256.8" cy="657.9" r="4.9" fill="#ff0000"/>
<text x="276.5" y="666.3"><tspan font-style="italic">Trim7</tspan><tspan font-style="italic" font-size="16.5" dy="-6.9">-/-</tspan></text>
<line x1="118.4" y1="679.8" x2="190.6" y2="679.8" stroke="#000" stroke-width="2.5"/>
<text x="154.9" y="681.44" font-size="22" text-anchor="middle">**</text>
<line x1="385.8" y1="679.8" x2="458.6" y2="679.8" stroke="#000" stroke-width="2.5"/>
<text x="422.5" y="681.44" font-size="22" text-anchor="middle">*</text>
<line x1="77.55" y1="686.1" x2="77.55" y2="961.5" stroke="#000" stroke-width="3"/>
<line x1="65.75" y1="687.6" x2="77.55" y2="687.6" stroke="#000" stroke-width="3"/>
<line x1="65.75" y1="823" x2="77.55" y2="823" stroke="#000" stroke-width="3"/>
<line x1="65.6" y1="960" x2="260.4" y2="960" stroke="#000" stroke-width="3"/>
<line x1="129" y1="960" x2="129" y2="971.5" stroke="#000" stroke-width="3"/>
<line x1="207.6" y1="960" x2="207.6" y2="971.5" stroke="#000" stroke-width="3"/>
<text x="64.2" y="697" text-anchor="end">10<tspan font-size="16.5" dy="-6.7">7</tspan></text>
<text x="64.2" y="832.4" text-anchor="end">10<tspan font-size="16.5" dy="-6.7">6</tspan></text>
<text x="64.2" y="969.4" text-anchor="end">10<tspan font-size="16.5" dy="-6.7">5</tspan></text>
<text x="126.8" y="993.8" text-anchor="middle">WT</text>
<text x="207" y="993.8" text-anchor="middle"><tspan font-style="italic">Trim7</tspan><tspan font-style="italic" font-size="16.5" dy="-6.9">-/-</tspan></text>
<text x="17.2" y="815.7" text-anchor="middle" transform="rotate(-90 17.2 815.7)">PFU/gr tissue</text>
<line x1="129.2" y1="822.8" x2="129.2" y2="880.4" stroke="#000" stroke-width="1.5"/>
<line x1="116.3" y1="822.8" x2="142.1" y2="822.8" stroke="#000" stroke-width="1.5"/>
<line x1="116.3" y1="880.4" x2="142.1" y2="880.4" stroke="#000" stroke-width="1.5"/>
<line x1="103.3" y1="844.9" x2="155" y2="844.9" stroke="#000" stroke-width="3"/>
<circle cx="129.3" cy="808.3" r="5.6" fill="#000"/>
<circle cx="129.3" cy="857.7" r="5.6" fill="#000"/>
<circle cx="129.3" cy="910" r="5.6" fill="#000"/>
<line x1="181.5" y1="770" x2="233.1" y2="770" stroke="#000" stroke-width="3"/>
<line x1="207.6" y1="765.6" x2="207.6" y2="774.6" stroke="#ff0000" stroke-width="1.5"/>
<line x1="194.6" y1="765.6" x2="220.6" y2="765.6" stroke="#ff0000" stroke-width="1.5"/>
<line x1="194.6" y1="774.6" x2="220.6" y2="774.6" stroke="#ff0000" stroke-width="1.5"/>
<circle cx="196.2" cy="763" r="5.6" fill="#ff0000"/>
<circle cx="218" cy="769.6" r="5.6" fill="#ff0000"/>
<circle cx="196.2" cy="778.7" r="5.6" fill="#ff0000"/>
<line x1="334.8" y1="686.1" x2="334.8" y2="961.5" stroke="#000" stroke-width="3"/>
<line x1="323" y1="687.6" x2="334.8" y2="687.6" stroke="#000" stroke-width="3"/>
<line x1="323" y1="823.8" x2="334.8" y2="823.8" stroke="#000" stroke-width="3"/>
<line x1="322.6" y1="960" x2="511.8" y2="960" stroke="#000" stroke-width="3"/>
<line x1="373" y1="960" x2="373" y2="971.5" stroke="#000" stroke-width="3"/>
<line x1="471.1" y1="960" x2="471.1" y2="971.5" stroke="#000" stroke-width="3"/>
<text x="321.2" y="697" text-anchor="end">10<tspan font-size="16.5" dy="-6.7">5</tspan></text>
<text x="321.2" y="833.2" text-anchor="end">10<tspan font-size="16.5" dy="-6.7">4</tspan></text>
<text x="321.2" y="969.4" text-anchor="end">10<tspan font-size="16.5" dy="-6.7">3</tspan></text>
<text x="383" y="993.8" text-anchor="middle">WT</text>
<text x="472.4" y="993.8" text-anchor="middle"><tspan font-style="italic">Trim7</tspan><tspan font-style="italic" font-size="16.5" dy="-6.9">-/-</tspan></text>
<text x="275.8" y="803" text-anchor="middle" transform="rotate(-90 275.8 803)">PFU/gr tissue</text>
<line x1="373.2" y1="806.3" x2="373.2" y2="822.2" stroke="#000" stroke-width="1.5"/>
<line x1="363.2" y1="806.3" x2="383.2" y2="806.3" stroke="#000" stroke-width="1.5"/>
<line x1="363.2" y1="822.2" x2="383.2" y2="822.2" stroke="#000" stroke-width="1.5"/>
<line x1="354" y1="814.2" x2="392.8" y2="814.2" stroke="#000" stroke-width="3"/>
<circle cx="358.9" cy="805.7" r="5.6" fill="#000"/>
<circle cx="387.7" cy="798.7" r="5.6" fill="#000"/>
<circle cx="358.9" cy="828.8" r="5.6" fill="#000"/>
<circle cx="387.7" cy="828.8" r="5.6" fill="#000"/>
<line x1="452" y1="761" x2="490.7" y2="761" stroke="#000" stroke-width="3"/>
<line x1="471.3" y1="749" x2="471.3" y2="775.6" stroke="#ff0000" stroke-width="1.5"/>
<line x1="461.55" y1="749" x2="481.05" y2="749" stroke="#ff0000" stroke-width="1.5"/>
<line x1="461.55" y1="775.6" x2="481.05" y2="775.6" stroke="#ff0000" stroke-width="1.5"/>
<circle cx="457.2" cy="748.2" r="5.6" fill="#ff0000"/>
<circle cx="485.7" cy="738.9" r="5.6" fill="#ff0000"/>
<circle cx="471.3" cy="773" r="5.6" fill="#ff0000"/>
<circle cx="471.3" cy="804.7" r="5.6" fill="#ff0000"/>
</g>
<g id="panel-e">
<text x="564.3" y="608.1" font-size="24.5" font-weight="bold">e</text>
<text x="772.2" y="619.1" text-anchor="middle">IFN-β</text>
<line x1="752.7" y1="680.3" x2="793.8" y2="680.3" stroke="#000" stroke-width="2.5"/>
<text x="773.2" y="672.7" text-anchor="middle" font-style="italic">P=0.06</text>
<line x1="604.7" y1="681.5" x2="604.7" y2="955.5" stroke="#000" stroke-width="3"/>
<line x1="596.7" y1="683" x2="604.7" y2="683" stroke="#000" stroke-width="3"/>
<line x1="596.7" y1="737.5" x2="604.7" y2="737.5" stroke="#000" stroke-width="3"/>
<line x1="596.7" y1="792" x2="604.7" y2="792" stroke="#000" stroke-width="3"/>
<line x1="596.7" y1="846.4" x2="604.7" y2="846.4" stroke="#000" stroke-width="3"/>
<line x1="596.7" y1="899.9" x2="604.7" y2="899.9" stroke="#000" stroke-width="3"/>
<line x1="596.4" y1="954" x2="1002.5" y2="954" stroke="#000" stroke-width="3"/>
<line x1="670.6" y1="954" x2="670.6" y2="962.7" stroke="#000" stroke-width="3"/>
<line x1="802.2" y1="954" x2="802.2" y2="962.7" stroke="#000" stroke-width="3"/>
<line x1="933.8" y1="954" x2="933.8" y2="962.7" stroke="#000" stroke-width="3"/>
<text x="596.4" y="693.4" text-anchor="end">10<tspan font-size="16.5" dy="-6.7">-2</tspan></text>
<text x="596.4" y="747.9" text-anchor="end">10<tspan font-size="16.5" dy="-6.7">-3</tspan></text>
<text x="596.4" y="802.4" text-anchor="end">10<tspan font-size="16.5" dy="-6.7">-4</tspan></text>
<text x="596.4" y="856.8" text-anchor="end">10<tspan font-size="16.5" dy="-6.7">-5</tspan></text>
<text x="596.4" y="910.3" text-anchor="end">10<tspan font-size="16.5" dy="-6.7">-6</tspan></text>
<text x="596.4" y="964.4" text-anchor="end">10<tspan font-size="16.5" dy="-6.7">-7</tspan></text>
<text x="668" y="982.6" text-anchor="middle">Mock</text>
<text x="797" y="982.6" text-anchor="middle">Day 3</text>
<text x="936" y="982.6" text-anchor="middle">Day 7</text>
<text x="543.8" y="819" text-anchor="middle" transform="rotate(-90 543.8 819)">mRNA(REL/β-Actin)</text>
<line x1="628.5" y1="840.5" x2="628.5" y2="858.5" stroke="#000" stroke-width="2.4"/>
<line x1="624" y1="840.5" x2="633" y2="840.5" stroke="#000" stroke-width="2.4"/>
<line x1="624" y1="858.5" x2="633" y2="858.5" stroke="#000" stroke-width="2.4"/>
<circle cx="628.3" cy="821.7" r="5.6" fill="#000"/>
<circle cx="628.3" cy="840.8" r="5.6" fill="#000"/>
<circle cx="624.2" cy="851.6" r="5.6" fill="#000"/>
<circle cx="632.6" cy="851.6" r="5.6" fill="#000"/>
<circle cx="628.3" cy="848.5" r="5.6" fill="#000"/>
<circle cx="628.3" cy="873.5" r="5.6" fill="#000"/>
<circle cx="628.3" cy="938.4" r="5.6" fill="#000"/>
<line x1="619.1" y1="846.8" x2="637.9" y2="846.8" stroke="#000" stroke-width="2.6"/>
<line x1="656.8" y1="850" x2="656.8" y2="865" stroke="#ff0000" stroke-width="2.4"/>
<line x1="652.3" y1="850" x2="661.3" y2="850" stroke="#ff0000" stroke-width="2.4"/>
<line x1="652.3" y1="865" x2="661.3" y2="865" stroke="#ff0000" stroke-width="2.4"/>
<circle cx="652.4" cy="845.8" r="5.6" fill="#ff0000"/>
<circle cx="661.4" cy="845.8" r="5.6" fill="#ff0000"/>
<circle cx="657" cy="858" r="5.6" fill="#ff0000"/>
<circle cx="661.4" cy="878.9" r="5.6" fill="#ff0000"/>
<circle cx="652.4" cy="884.9" r="5.6" fill="#ff0000"/>
<line x1="647.4" y1="857.4" x2="666.2" y2="857.4" stroke="#000" stroke-width="2.6"/>
<line x1="684.9" y1="851" x2="684.9" y2="868.5" stroke="#000" stroke-width="2.4"/>
<line x1="680.4" y1="851" x2="689.4" y2="851" stroke="#000" stroke-width="2.4"/>
<line x1="680.4" y1="868.5" x2="689.4" y2="868.5" stroke="#000" stroke-width="2.4"/>
<rect x="675" y="839.3" width="11" height="11" fill="#000"/>
<rect x="684" y="848.3" width="11" height="11" fill="#000"/>
<rect x="679.5" y="864.5" width="11" height="11" fill="#000"/>
<rect x="684" y="871.4" width="11" height="11" fill="#000"/>
<rect x="675" y="874.8" width="11" height="11" fill="#000"/>
<line x1="675.5" y1="859.6" x2="694.3" y2="859.6" stroke="#000" stroke-width="2.6"/>
<line x1="713" y1="836" x2="713" y2="849" stroke="#ff0000" stroke-width="2.4"/>
<line x1="708.5" y1="836" x2="717.5" y2="836" stroke="#ff0000" stroke-width="2.4"/>
<line x1="708.5" y1="849" x2="717.5" y2="849" stroke="#ff0000" stroke-width="2.4"/>
<rect x="711.7" y="820.2" width="11" height="11" fill="#ff0000"/>
<rect x="703.1" y="830.3" width="11" height="11" fill="#ff0000"/>
<rect x="711.7" y="835.5" width="11" height="11" fill="#ff0000"/>
<rect x="703.1" y="842.5" width="11" height="11" fill="#ff0000"/>
<rect x="711.7" y="852" width="11" height="11" fill="#ff0000"/>
<rect x="703.1" y="856.3" width="11" height="11" fill="#ff0000"/>
<line x1="703.6" y1="842.4" x2="722.4" y2="842.4" stroke="#000" stroke-width="2.6"/>
<line x1="760.3" y1="792.5" x2="760.3" y2="799.5" stroke="#000" stroke-width="2.4"/>
<line x1="755.8" y1="792.5" x2="764.8" y2="792.5" stroke="#000" stroke-width="2.4"/>
<line x1="755.8" y1="799.5" x2="764.8" y2="799.5" stroke="#000" stroke-width="2.4"/>
<circle cx="755.7" cy="788.6" r="5.6" fill="#000"/>
<circle cx="764.7" cy="788.6" r="5.6" fill="#000"/>
<circle cx="760.3" cy="795.6" r="5.6" fill="#000"/>
<circle cx="764.7" cy="802.7" r="5.6" fill="#000"/>
<circle cx="755.7" cy="808.7" r="5.6" fill="#000"/>
<line x1="750.9" y1="796" x2="769.7" y2="796" stroke="#000" stroke-width="2.6"/>
<line x1="788.4" y1="759" x2="788.4" y2="775" stroke="#ff0000" stroke-width="2.4"/>
<line x1="783.9" y1="759" x2="792.9" y2="759" stroke="#ff0000" stroke-width="2.4"/>
<line x1="783.9" y1="775" x2="792.9" y2="775" stroke="#ff0000" stroke-width="2.4"/>
<circle cx="783.8" cy="751.5" r="5.6" fill="#ff0000"/>
<circle cx="792.8" cy="755.9" r="5.6" fill="#ff0000"/>
<circle cx="783.8" cy="777.6" r="5.6" fill="#ff0000"/>
<circle cx="792.8" cy="780.6" r="5.6" fill="#ff0000"/>
<circle cx="788.4" cy="796.2" r="5.6" fill="#ff0000"/>
<line x1="779" y1="767" x2="797.8" y2="767" stroke="#000" stroke-width="2.6"/>
<line x1="816.5" y1="794" x2="816.5" y2="802" stroke="#000" stroke-width="2.4"/>
<line x1="812" y1="794" x2="821" y2="794" stroke="#000" stroke-width="2.4"/>
<line x1="812" y1="802" x2="821" y2="802" stroke="#000" stroke-width="2.4"/>
<rect x="806.8" y="787.1" width="11" height="11" fill="#000"/>
<rect x="815.4" y="794.5" width="11" height="11" fill="#000"/>
<rect x="806.8" y="798.2" width="11" height="11" fill="#000"/>
<line x1="807.1" y1="797.8" x2="825.9" y2="797.8" stroke="#000" stroke-width="2.6"/>
<line x1="844.6" y1="785" x2="844.6" y2="810.7" stroke="#ff0000" stroke-width="2.4"/>
<line x1="840.1" y1="785" x2="849.1" y2="785" stroke="#ff0000" stroke-width="2.4"/>
<line x1="840.1" y1="810.7" x2="849.1" y2="810.7" stroke="#ff0000" stroke-width="2.4"/>
<rect x="839.1" y="771.7" width="11" height="11" fill="#ff0000"/>
<rect x="839.1" y="811.2" width="11" height="11" fill="#ff0000"/>
<rect x="839.1" y="824.2" width="11" height="11" fill="#ff0000"/>
<line x1="835.2" y1="797" x2="854" y2="797" stroke="#000" stroke-width="2.6"/>
<line x1="891.7" y1="831.5" x2="891.7" y2="846.5" stroke="#000" stroke-width="2.4"/>
<line x1="887.2" y1="831.5" x2="896.2" y2="831.5" stroke="#000" stroke-width="2.4"/>
<line x1="887.2" y1="846.5" x2="896.2" y2="846.5" stroke="#000" stroke-width="2.4"/>
<circle cx="895.9" cy="818.3" r="5.6" fill="#000"/>
<circle cx="887.5" cy="828.9" r="5.6" fill="#000"/>
<circle cx="887.5" cy="845.3" r="5.6" fill="#000"/>
<circle cx="895.9" cy="843.2" r="5.6" fill="#000"/>
<circle cx="891.7" cy="857.9" r="5.6" fill="#000"/>
<circle cx="891.7" cy="880.5" r="5.6" fill="#000"/>
<line x1="882.3" y1="839" x2="901.1" y2="839" stroke="#000" stroke-width="2.6"/>
<line x1="920.1" y1="838.5" x2="920.1" y2="847" stroke="#ff0000" stroke-width="2.4"/>
<line x1="915.6" y1="838.5" x2="924.6" y2="838.5" stroke="#ff0000" stroke-width="2.4"/>
<line x1="915.6" y1="847" x2="924.6" y2="847" stroke="#ff0000" stroke-width="2.4"/>
<circle cx="920.1" cy="831.6" r="5.6" fill="#ff0000"/>
<circle cx="915.9" cy="835.4" r="5.6" fill="#ff0000"/>
<circle cx="924.4" cy="840" r="5.6" fill="#ff0000"/>
<circle cx="920.1" cy="847.4" r="5.6" fill="#ff0000"/>
<circle cx="924.4" cy="853.7" r="5.6" fill="#ff0000"/>
<circle cx="915.9" cy="862.6" r="5.6" fill="#ff0000"/>
<line x1="910.7" y1="842.8" x2="929.5" y2="842.8" stroke="#000" stroke-width="2.6"/>
<line x1="947.9" y1="840.5" x2="947.9" y2="856.5" stroke="#000" stroke-width="2.4"/>
<line x1="943.4" y1="840.5" x2="952.4" y2="840.5" stroke="#000" stroke-width="2.4"/>
<line x1="943.4" y1="856.5" x2="952.4" y2="856.5" stroke="#000" stroke-width="2.4"/>
<rect x="946.7" y="822.9" width="11" height="11" fill="#000"/>
<rect x="938.2" y="833.5" width="11" height="11" fill="#000"/>
<rect x="946.7" y="843" width="11" height="11" fill="#000"/>
<rect x="938.2" y="852.9" width="11" height="11" fill="#000"/>
<rect x="946.7" y="862.3" width="11" height="11" fill="#000"/>
<rect x="942.4" y="890.3" width="11" height="11" fill="#000"/>
<line x1="938.5" y1="848" x2="957.3" y2="848" stroke="#000" stroke-width="2.6"/>
<line x1="976.2" y1="730.5" x2="976.2" y2="792.2" stroke="#ff0000" stroke-width="2.4"/>
<line x1="971.7" y1="730.5" x2="980.7" y2="730.5" stroke="#ff0000" stroke-width="2.4"/>
<line x1="971.7" y1="792.2" x2="980.7" y2="792.2" stroke="#ff0000" stroke-width="2.4"/>
<rect x="970.7" y="704.4" width="11" height="11" fill="#ff0000"/>
<rect x="970.7" y="756.6" width="11" height="11" fill="#ff0000"/>
<rect x="966.8" y="830.8" width="11" height="11" fill="#ff0000"/>
<rect x="975.2" y="830.3" width="11" height="11" fill="#ff0000"/>
<line x1="966.8" y1="744.8" x2="985.6" y2="744.8" stroke="#000" stroke-width="2.6"/>
</g>
<g id="panel-f">
<text x="1081.5" y="608.6" font-size="24.5" font-weight="bold">f</text>
<text x="1252.4" y="623.8" text-anchor="middle">CXCL10</text>
<line x1="1226.3" y1="681" x2="1266.8" y2="681" stroke="#000" stroke-width="2.5"/>
<text x="1250.8" y="683.66" font-size="22.8" text-anchor="middle">****</text>
<line x1="1088.1" y1="685.3" x2="1088.1" y2="952" stroke="#000" stroke-width="3"/>
<line x1="1080.1" y1="686.8" x2="1088.1" y2="686.8" stroke="#000" stroke-width="3"/>
<line x1="1080.1" y1="775" x2="1088.1" y2="775" stroke="#000" stroke-width="3"/>
<line x1="1080.1" y1="862.4" x2="1088.1" y2="862.4" stroke="#000" stroke-width="3"/>
<line x1="1080" y1="950.5" x2="1473.2" y2="950.5" stroke="#000" stroke-width="3"/>
<line x1="1151.6" y1="950.5" x2="1151.6" y2="959.2" stroke="#000" stroke-width="3"/>
<line x1="1280.1" y1="950.5" x2="1280.1" y2="959.2" stroke="#000" stroke-width="3"/>
<line x1="1407.5" y1="950.5" x2="1407.5" y2="959.2" stroke="#000" stroke-width="3"/>
<text x="1079.5" y="697.2" text-anchor="end">10<tspan font-size="16.5" dy="-6.7">-1</tspan></text>
<text x="1079.5" y="785.4" text-anchor="end">10<tspan font-size="16.5" dy="-6.7">-2</tspan></text>
<text x="1079.5" y="872.8" text-anchor="end">10<tspan font-size="16.5" dy="-6.7">-3</tspan></text>
<text x="1079.5" y="959.6" text-anchor="end">10<tspan font-size="16.5" dy="-6.7">-4</tspan></text>
<text x="1149" y="983" text-anchor="middle">Mock</text>
<text x="1282.6" y="983" text-anchor="middle">Day 3</text>
<text x="1417.4" y="983" text-anchor="middle">Day 7</text>
<text x="1031.2" y="820" text-anchor="middle" transform="rotate(-90 1031.2 820)">mRNA(REL/β-Actin)</text>
<line x1="1110.9" y1="843.9" x2="1110.9" y2="856.7" stroke="#000" stroke-width="2.4"/>
<line x1="1106.4" y1="843.9" x2="1115.4" y2="843.9" stroke="#000" stroke-width="2.4"/>
<line x1="1106.4" y1="856.7" x2="1115.4" y2="856.7" stroke="#000" stroke-width="2.4"/>
<circle cx="1113.3" cy="832.4" r="5.6" fill="#000"/>
<circle cx="1109.3" cy="837.8" r="5.6" fill="#000"/>
<circle cx="1107.3" cy="856.9" r="5.6" fill="#000"/>
<circle cx="1114.3" cy="863.9" r="5.6" fill="#000"/>
<circle cx="1111" cy="858" r="5.6" fill="#000"/>
<circle cx="1107.3" cy="868.9" r="5.6" fill="#000"/>
<line x1="1101.5" y1="850.3" x2="1120.3" y2="850.3" stroke="#000" stroke-width="2.6"/>
<line x1="1138.4" y1="854.5" x2="1138.4" y2="858.2" stroke="#ff0000" stroke-width="2.4"/>
<line x1="1133.9" y1="854.5" x2="1142.9" y2="854.5" stroke="#ff0000" stroke-width="2.4"/>
<line x1="1133.9" y1="858.2" x2="1142.9" y2="858.2" stroke="#ff0000" stroke-width="2.4"/>
<circle cx="1138.4" cy="851.9" r="5.6" fill="#ff0000"/>
<circle cx="1134.4" cy="856.9" r="5.6" fill="#ff0000"/>
<circle cx="1142.4" cy="855.9" r="5.6" fill="#ff0000"/>
<circle cx="1138.4" cy="860.9" r="5.6" fill="#ff0000"/>
<circle cx="1134.4" cy="862.9" r="5.6" fill="#ff0000"/>
<line x1="1129" y1="856.3" x2="1147.8" y2="856.3" stroke="#000" stroke-width="2.6"/>
<line x1="1165.9" y1="832.5" x2="1165.9" y2="846.5" stroke="#000" stroke-width="2.4"/>
<line x1="1161.4" y1="832.5" x2="1170.4" y2="832.5" stroke="#000" stroke-width="2.4"/>
<line x1="1161.4" y1="846.5" x2="1170.4" y2="846.5" stroke="#000" stroke-width="2.4"/>
<rect x="1160.4" y="810.3" width="11" height="11" fill="#000"/>
<rect x="1156.4" y="828.3" width="11" height="11" fill="#000"/>
<rect x="1164.4" y="833.3" width="11" height="11" fill="#000"/>
<rect x="1160.4" y="839.4" width="11" height="11" fill="#000"/>
<rect x="1164.4" y="849.4" width="11" height="11" fill="#000"/>
<rect x="1156.4" y="851.4" width="11" height="11" fill="#000"/>
<line x1="1156.5" y1="839.4" x2="1175.3" y2="839.4" stroke="#000" stroke-width="2.6"/>
<line x1="1193.6" y1="841.5" x2="1193.6" y2="847" stroke="#ff0000" stroke-width="2.4"/>
<line x1="1189.1" y1="841.5" x2="1198.1" y2="841.5" stroke="#ff0000" stroke-width="2.4"/>
<line x1="1189.1" y1="847" x2="1198.1" y2="847" stroke="#ff0000" stroke-width="2.4"/>
<rect x="1188.1" y="829.3" width="11" height="11" fill="#ff0000"/>
<rect x="1184.1" y="843.4" width="11" height="11" fill="#ff0000"/>
<rect x="1192.1" y="844.4" width="11" height="11" fill="#ff0000"/>
<rect x="1188.1" y="837.3" width="11" height="11" fill="#ff0000"/>
<rect x="1188.1" y="845" width="11" height="11" fill="#ff0000"/>
<line x1="1184.2" y1="844.3" x2="1203" y2="844.3" stroke="#000" stroke-width="2.6"/>
<line x1="1239.1" y1="742" x2="1239.1" y2="749.5" stroke="#000" stroke-width="2.4"/>
<line x1="1234.6" y1="742" x2="1243.6" y2="742" stroke="#000" stroke-width="2.4"/>
<line x1="1234.6" y1="749.5" x2="1243.6" y2="749.5" stroke="#000" stroke-width="2.4"/>
<circle cx="1235.1" cy="735.5" r="5.6" fill="#000"/>
<circle cx="1243.1" cy="739.1" r="5.6" fill="#000"/>
<circle cx="1235.1" cy="747.6" r="5.6" fill="#000"/>
<circle cx="1243.1" cy="753" r="5.6" fill="#000"/>
<circle cx="1235.1" cy="758.6" r="5.6" fill="#000"/>
<line x1="1229.7" y1="745.6" x2="1248.5" y2="745.6" stroke="#000" stroke-width="2.6"/>
<line x1="1266.4" y1="709.5" x2="1266.4" y2="721.5" stroke="#ff0000" stroke-width="2.4"/>
<line x1="1261.9" y1="709.5" x2="1270.9" y2="709.5" stroke="#ff0000" stroke-width="2.4"/>
<line x1="1261.9" y1="721.5" x2="1270.9" y2="721.5" stroke="#ff0000" stroke-width="2.4"/>
<circle cx="1266.4" cy="702.8" r="5.6" fill="#ff0000"/>
<circle cx="1262.4" cy="710.5" r="5.6" fill="#ff0000"/>
<circle cx="1270.4" cy="712.5" r="5.6" fill="#ff0000"/>
<circle cx="1268.4" cy="726.1" r="5.6" fill="#ff0000"/>
<circle cx="1264.4" cy="735.9" r="5.6" fill="#ff0000"/>
<line x1="1257" y1="715.5" x2="1275.8" y2="715.5" stroke="#000" stroke-width="2.6"/>
<line x1="1293.9" y1="752.5" x2="1293.9" y2="786.7" stroke="#000" stroke-width="2.6"/>
<line x1="1289.4" y1="752.5" x2="1298.4" y2="752.5" stroke="#000" stroke-width="2.6"/>
<line x1="1289.4" y1="786.7" x2="1298.4" y2="786.7" stroke="#000" stroke-width="2.6"/>
<rect x="1288.4" y="747.1" width="11" height="11" fill="#000"/>
<rect x="1288.4" y="757.1" width="11" height="11" fill="#000"/>
<rect x="1288.4" y="810.3" width="11" height="11" fill="#000"/>
<line x1="1284.5" y1="769.6" x2="1303.3" y2="769.6" stroke="#000" stroke-width="2.6"/>
<line x1="1321.4" y1="771.8" x2="1321.4" y2="789.7" stroke="#ff0000" stroke-width="2.4"/>
<line x1="1316.9" y1="771.8" x2="1325.9" y2="771.8" stroke="#ff0000" stroke-width="2.4"/>
<line x1="1316.9" y1="789.7" x2="1325.9" y2="789.7" stroke="#ff0000" stroke-width="2.4"/>
<rect x="1311.9" y="767.7" width="11" height="11" fill="#ff0000"/>
<rect x="1319.9" y="768.1" width="11" height="11" fill="#ff0000"/>
<rect x="1315.9" y="796.2" width="11" height="11" fill="#ff0000"/>
<line x1="1312" y1="780.7" x2="1330.8" y2="780.7" stroke="#000" stroke-width="2.6"/>
<line x1="1367.1" y1="789" x2="1367.1" y2="802" stroke="#000" stroke-width="2.4"/>
<line x1="1362.6" y1="789" x2="1371.6" y2="789" stroke="#000" stroke-width="2.4"/>
<line x1="1362.6" y1="802" x2="1371.6" y2="802" stroke="#000" stroke-width="2.4"/>
<circle cx="1362.9" cy="783.6" r="5.6" fill="#000"/>
<circle cx="1371.3" cy="783.6" r="5.6" fill="#000"/>
<circle cx="1362.9" cy="791.8" r="5.6" fill="#000"/>
<circle cx="1371.3" cy="791.4" r="5.6" fill="#000"/>
<circle cx="1371.3" cy="818.3" r="5.6" fill="#000"/>
<circle cx="1362.9" cy="821.5" r="5.6" fill="#000"/>
<line x1="1357.7" y1="795.5" x2="1376.5" y2="795.5" stroke="#000" stroke-width="2.6"/>
<line x1="1394.2" y1="787.8" x2="1394.2" y2="804.6" stroke="#ff0000" stroke-width="2.4"/>
<line x1="1389.7" y1="787.8" x2="1398.7" y2="787.8" stroke="#ff0000" stroke-width="2.4"/>
<line x1="1389.7" y1="804.6" x2="1398.7" y2="804.6" stroke="#ff0000" stroke-width="2.4"/>
<circle cx="1394.2" cy="767.1" r="5.6" fill="#ff0000"/>
<circle cx="1390" cy="801.1" r="5.6" fill="#ff0000"/>
<circle cx="1398.4" cy="800" r="5.6" fill="#ff0000"/>
<circle cx="1390" cy="806.4" r="5.6" fill="#ff0000"/>
<circle cx="1398.4" cy="805.3" r="5.6" fill="#ff0000"/>
<circle cx="1394.2" cy="823.6" r="5.6" fill="#ff0000"/>
<line x1="1384.8" y1="796.2" x2="1403.6" y2="796.2" stroke="#000" stroke-width="2.6"/>
<line x1="1421.8" y1="809.5" x2="1421.8" y2="818.7" stroke="#000" stroke-width="2.4"/>
<line x1="1417.3" y1="809.5" x2="1426.3" y2="809.5" stroke="#000" stroke-width="2.4"/>
<line x1="1417.3" y1="818.7" x2="1426.3" y2="818.7" stroke="#000" stroke-width="2.4"/>
<rect x="1416.3" y="795.2" width="11" height="11" fill="#000"/>
<rect x="1416.3" y="803" width="11" height="11" fill="#000"/>
<rect x="1420.5" y="812.4" width="11" height="11" fill="#000"/>
<rect x="1412.1" y="818.8" width="11" height="11" fill="#000"/>
<rect x="1416.3" y="810.3" width="11" height="11" fill="#000"/>
<line x1="1412.4" y1="814.1" x2="1431.2" y2="814.1" stroke="#000" stroke-width="2.6"/>
<line x1="1449" y1="795.2" x2="1449" y2="816.9" stroke="#ff0000" stroke-width="2.4"/>
<line x1="1444.5" y1="795.2" x2="1453.5" y2="795.2" stroke="#ff0000" stroke-width="2.4"/>
<line x1="1444.5" y1="816.9" x2="1453.5" y2="816.9" stroke="#ff0000" stroke-width="2.4"/>
<rect x="1443.5" y="766.5" width="11" height="11" fill="#ff0000"/>
<rect x="1439.3" y="798.7" width="11" height="11" fill="#ff0000"/>
<rect x="1447.7" y="801.9" width="11" height="11" fill="#ff0000"/>
<rect x="1439.3" y="816.6" width="11" height="11" fill="#ff0000"/>
<rect x="1447.7" y="817.1" width="11" height="11" fill="#ff0000"/>
<rect x="1443.5" y="846.1" width="11" height="11" fill="#ff0000"/>
<line x1="1439.6" y1="805.7" x2="1458.4" y2="805.7" stroke="#000" stroke-width="2.6"/>
</g>
<g id="panel-g">
<text x="1553.5" y="609.1" font-size="24.5" font-weight="bold">g</text>
<text x="1730" y="627.8" text-anchor="middle">ISG54</text>
<line x1="1714.4" y1="689.2" x2="1755.1" y2="689.2" stroke="#000" stroke-width="2.5"/>
<text x="1737.7" y="688.7" font-size="22.5" text-anchor="middle">**</text>
<circle cx="1825.6" cy="570.8" r="6" fill="#000"/>
<circle cx="1825.6" cy="611.8" r="6" fill="#ff0000"/>
<rect x="1819.5" y="646.4" width="12.2" height="12.2" fill="#000"/>
<rect x="1819.5" y="687.9" width="12.2" height="12.2" fill="#ff0000"/>
<text x="1839.8" y="580.7">WT Male</text>
<text x="1839.8" y="621.7"><tspan font-style="italic">Trim7</tspan><tspan font-style="italic" font-size="16.5" dy="-6.9">-/-</tspan><tspan dy="6.9" dx="2">Male</tspan></text>
<text x="1841.5" y="663.7">WT Female</text>
<text x="1841.5" y="707.4"><tspan font-style="italic">Trim7</tspan><tspan font-style="italic" font-size="16.5" dy="-6.9">-/-</tspan><tspan dy="6.9" dx="2.6">Female</tspan></text>
<line x1="1564.6" y1="676.7" x2="1564.6" y2="954.6" stroke="#000" stroke-width="3"/>
<line x1="1553.6" y1="678.2" x2="1564.6" y2="678.2" stroke="#000" stroke-width="3"/>
<line x1="1553.6" y1="815.3" x2="1564.6" y2="815.3" stroke="#000" stroke-width="3"/>
<line x1="1552.5" y1="953.1" x2="1966.7" y2="953.1" stroke="#000" stroke-width="3"/>
<line x1="1627.5" y1="953.1" x2="1627.5" y2="964.6" stroke="#000" stroke-width="3"/>
<line x1="1764.4" y1="953.1" x2="1764.4" y2="964.6" stroke="#000" stroke-width="3"/>
<line x1="1901.5" y1="953.1" x2="1901.5" y2="964.6" stroke="#000" stroke-width="3"/>
<text x="1551.8" y="688.6" text-anchor="end">10<tspan font-size="16.5" dy="-6.7">-1</tspan></text>
<text x="1551.8" y="825.7" text-anchor="end">10<tspan font-size="16.5" dy="-6.7">-2</tspan></text>
<text x="1551.8" y="963.5" text-anchor="end">10<tspan font-size="16.5" dy="-6.7">-3</tspan></text>
<text x="1628.7" y="986.1" text-anchor="middle">Mock</text>
<text x="1764.9" y="986.1" text-anchor="middle">Day 3</text>
<text x="1896.3" y="986.1" text-anchor="middle">Day 7</text>
<text x="1507" y="819.8" text-anchor="middle" transform="rotate(-90 1507 819.8)">mRNA(REL/β-Actin)</text>
<line x1="1583.9" y1="801.8" x2="1583.9" y2="836.5" stroke="#000" stroke-width="1.5"/>
<line x1="1579.4" y1="801.8" x2="1588.4" y2="801.8" stroke="#000" stroke-width="1.5"/>
<line x1="1579.4" y1="836.5" x2="1588.4" y2="836.5" stroke="#000" stroke-width="1.5"/>
<line x1="1574.5" y1="819.1" x2="1593.3" y2="819.1" stroke="#000" stroke-width="2.6"/>
<circle cx="1583.9" cy="760" r="5.6" fill="#000"/>
<circle cx="1583.9" cy="828.1" r="5.6" fill="#000"/>
<circle cx="1579.3" cy="841.7" r="5.6" fill="#000"/>
<circle cx="1584" cy="846" r="5.6" fill="#000"/>
<circle cx="1588.3" cy="849" r="5.6" fill="#000"/>
<circle cx="1579.8" cy="857.5" r="5.6" fill="#000"/>
<line x1="1613.5" y1="765.2" x2="1613.5" y2="833.2" stroke="#ff0000" stroke-width="1.5"/>
<line x1="1609" y1="765.2" x2="1618" y2="765.2" stroke="#ff0000" stroke-width="1.5"/>
<line x1="1609" y1="833.2" x2="1618" y2="833.2" stroke="#ff0000" stroke-width="1.5"/>
<line x1="1604.1" y1="790.2" x2="1622.9" y2="790.2" stroke="#000" stroke-width="2.6"/>
<circle cx="1613.5" cy="734.5" r="5.6" fill="#ff0000"/>
<circle cx="1613.5" cy="820.6" r="5.6" fill="#ff0000"/>
<circle cx="1617.9" cy="836.6" r="5.6" fill="#ff0000"/>
<circle cx="1608.9" cy="846.1" r="5.6" fill="#ff0000"/>
<line x1="1642.9" y1="838.5" x2="1642.9" y2="849.5" stroke="#000" stroke-width="1.5"/>
<line x1="1638.4" y1="838.5" x2="1647.4" y2="838.5" stroke="#000" stroke-width="1.5"/>
<line x1="1638.4" y1="849.5" x2="1647.4" y2="849.5" stroke="#000" stroke-width="1.5"/>
<line x1="1633.5" y1="844" x2="1652.3" y2="844" stroke="#000" stroke-width="2.6"/>
<rect x="1637.4" y="824.6" width="11" height="11" fill="#000"/>
<rect x="1633.6" y="833.7" width="11" height="11" fill="#000"/>
<rect x="1641.6" y="833.7" width="11" height="11" fill="#000"/>
<rect x="1637.4" y="837" width="11" height="11" fill="#000"/>
<rect x="1637.4" y="856.9" width="11" height="11" fill="#000"/>
<line x1="1672.1" y1="830.5" x2="1672.1" y2="845.5" stroke="#ff0000" stroke-width="1.5"/>
<line x1="1667.6" y1="830.5" x2="1676.6" y2="830.5" stroke="#ff0000" stroke-width="1.5"/>
<line x1="1667.6" y1="845.5" x2="1676.6" y2="845.5" stroke="#ff0000" stroke-width="1.5"/>
<line x1="1662.7" y1="838" x2="1681.5" y2="838" stroke="#000" stroke-width="2.6"/>
<rect x="1666.6" y="802.7" width="11" height="11" fill="#ff0000"/>
<rect x="1666.6" y="824.6" width="11" height="11" fill="#ff0000"/>
<rect x="1662.2" y="832.4" width="11" height="11" fill="#ff0000"/>
<rect x="1670.9" y="832.4" width="11" height="11" fill="#ff0000"/>
<rect x="1666.6" y="841.4" width="11" height="11" fill="#ff0000"/>
<rect x="1666.6" y="854.8" width="11" height="11" fill="#ff0000"/>
<line x1="1721" y1="756.2" x2="1721" y2="785.8" stroke="#000" stroke-width="1.5"/>
<line x1="1716.5" y1="756.2" x2="1725.5" y2="756.2" stroke="#000" stroke-width="1.5"/>
<line x1="1716.5" y1="785.8" x2="1725.5" y2="785.8" stroke="#000" stroke-width="1.5"/>
<line x1="1711.6" y1="769.6" x2="1730.4" y2="769.6" stroke="#000" stroke-width="2.6"/>
<circle cx="1721" cy="735.5" r="5.6" fill="#000"/>
<circle cx="1725.7" cy="758.7" r="5.6" fill="#000"/>
<circle cx="1716.4" cy="767" r="5.6" fill="#000"/>
<circle cx="1721" cy="796.6" r="5.6" fill="#000"/>
<circle cx="1721" cy="830.1" r="5.6" fill="#000"/>
<line x1="1750.6" y1="722.6" x2="1750.6" y2="736.8" stroke="#ff0000" stroke-width="1.5"/>
<line x1="1746.1" y1="722.6" x2="1755.1" y2="722.6" stroke="#ff0000" stroke-width="1.5"/>
<line x1="1746.1" y1="736.8" x2="1755.1" y2="736.8" stroke="#ff0000" stroke-width="1.5"/>
<line x1="1741.2" y1="729.6" x2="1760" y2="729.6" stroke="#000" stroke-width="2.6"/>
<circle cx="1755.1" cy="714.4" r="5.6" fill="#ff0000"/>
<circle cx="1746" cy="721.9" r="5.6" fill="#ff0000"/>
<circle cx="1746" cy="743.8" r="5.6" fill="#ff0000"/>
<circle cx="1755.1" cy="743.8" r="5.6" fill="#ff0000"/>
<line x1="1779.6" y1="769" x2="1779.6" y2="799.7" stroke="#000" stroke-width="1.5"/>
<line x1="1775.1" y1="769" x2="1784.1" y2="769" stroke="#000" stroke-width="1.5"/>
<line x1="1775.1" y1="799.7" x2="1784.1" y2="799.7" stroke="#000" stroke-width="1.5"/>
<line x1="1770.2" y1="783.2" x2="1789" y2="783.2" stroke="#000" stroke-width="2.6"/>
<rect x="1774.1" y="759.7" width="11" height="11" fill="#000"/>
<rect x="1774.1" y="772.6" width="11" height="11" fill="#000"/>
<rect x="1774.1" y="813.6" width="11" height="11" fill="#000"/>
<line x1="1808.9" y1="761.8" x2="1808.9" y2="795.3" stroke="#ff0000" stroke-width="1.5"/>
<line x1="1804.4" y1="761.8" x2="1813.4" y2="761.8" stroke="#ff0000" stroke-width="1.5"/>
<line x1="1804.4" y1="795.3" x2="1813.4" y2="795.3" stroke="#ff0000" stroke-width="1.5"/>
<line x1="1799.5" y1="775.2" x2="1818.3" y2="775.2" stroke="#000" stroke-width="2.6"/>
<rect x="1803.4" y="748.6" width="11" height="11" fill="#ff0000"/>
<rect x="1803.4" y="764.1" width="11" height="11" fill="#ff0000"/>
<rect x="1803.4" y="816.9" width="11" height="11" fill="#ff0000"/>
<line x1="1857.7" y1="819.5" x2="1857.7" y2="830.5" stroke="#000" stroke-width="1.5"/>
<line x1="1853.2" y1="819.5" x2="1862.2" y2="819.5" stroke="#000" stroke-width="1.5"/>
<line x1="1853.2" y1="830.5" x2="1862.2" y2="830.5" stroke="#000" stroke-width="1.5"/>
<line x1="1848.3" y1="825" x2="1867.1" y2="825" stroke="#000" stroke-width="2.6"/>
<circle cx="1857.7" cy="807" r="5.6" fill="#000"/>
<circle cx="1862.3" cy="820.4" r="5.6" fill="#000"/>
<circle cx="1853" cy="827.1" r="5.6" fill="#000"/>
<circle cx="1862.3" cy="834.8" r="5.6" fill="#000"/>
<circle cx="1853.3" cy="843.6" r="5.6" fill="#000"/>
<line x1="1886.9" y1="807" x2="1886.9" y2="821" stroke="#ff0000" stroke-width="1.5"/>
<line x1="1882.4" y1="807" x2="1891.4" y2="807" stroke="#ff0000" stroke-width="1.5"/>
<line x1="1882.4" y1="821" x2="1891.4" y2="821" stroke="#ff0000" stroke-width="1.5"/>
<line x1="1877.5" y1="813.9" x2="1896.3" y2="813.9" stroke="#000" stroke-width="2.6"/>
<circle cx="1886.8" cy="786.3" r="5.6" fill="#ff0000"/>
<circle cx="1891.7" cy="811.6" r="5.6" fill="#ff0000"/>
<circle cx="1882.2" cy="820.6" r="5.6" fill="#ff0000"/>
<circle cx="1891.7" cy="828.9" r="5.6" fill="#ff0000"/>
<circle cx="1882.2" cy="832.2" r="5.6" fill="#ff0000"/>
<line x1="1916.3" y1="826.5" x2="1916.3" y2="836.5" stroke="#000" stroke-width="1.5"/>
<line x1="1911.8" y1="826.5" x2="1920.8" y2="826.5" stroke="#000" stroke-width="1.5"/>
<line x1="1911.8" y1="836.5" x2="1920.8" y2="836.5" stroke="#000" stroke-width="1.5"/>
<line x1="1906.9" y1="831.4" x2="1925.7" y2="831.4" stroke="#000" stroke-width="2.6"/>
<rect x="1910.7" y="808.4" width="11" height="11" fill="#000"/>
<rect x="1915.3" y="822.1" width="11" height="11" fill="#000"/>
<rect x="1906.3" y="825.9" width="11" height="11" fill="#000"/>
<rect x="1915.3" y="833.7" width="11" height="11" fill="#000"/>
<rect x="1906.3" y="841.9" width="11" height="11" fill="#000"/>
<line x1="1946" y1="818.5" x2="1946" y2="829" stroke="#ff0000" stroke-width="1.5"/>
<line x1="1941.5" y1="818.5" x2="1950.5" y2="818.5" stroke="#ff0000" stroke-width="1.5"/>
<line x1="1941.5" y1="829" x2="1950.5" y2="829" stroke="#ff0000" stroke-width="1.5"/>
<line x1="1936.6" y1="823.7" x2="1955.4" y2="823.7" stroke="#000" stroke-width="2.6"/>
<rect x="1945" y="801.5" width="11" height="11" fill="#ff0000"/>
<rect x="1936" y="806.6" width="11" height="11" fill="#ff0000"/>
<rect x="1945" y="810.5" width="11" height="11" fill="#ff0000"/>
<rect x="1945" y="825.2" width="11" height="11" fill="#ff0000"/>
<rect x="1936" y="831.9" width="11" height="11" fill="#ff0000"/>
</g>
<g id="panel-h">
<text x="52.2" y="1090.8" font-size="24.5" font-weight="bold">h</text>
<text x="313.2" y="1080.7" text-anchor="middle">SARS-CoV-2 Weight loss WT mice</text>
<line x1="101.9" y1="1129.8" x2="101.9" y2="1442.4" stroke="#000" stroke-width="3"/>
<line x1="89.2" y1="1131.3" x2="101.9" y2="1131.3" stroke="#000" stroke-width="3"/>
<line x1="89.2" y1="1208.5" x2="101.9" y2="1208.5" stroke="#000" stroke-width="3"/>
<line x1="89.2" y1="1285.8" x2="101.9" y2="1285.8" stroke="#000" stroke-width="3"/>
<line x1="89.2" y1="1363.2" x2="101.9" y2="1363.2" stroke="#000" stroke-width="3"/>
<line x1="87.7" y1="1440.9" x2="568.4" y2="1440.9" stroke="#000" stroke-width="3"/>
<line x1="173.1" y1="1440.9" x2="173.1" y2="1453.6" stroke="#000" stroke-width="3"/>
<line x1="280.4" y1="1440.9" x2="280.4" y2="1453.6" stroke="#000" stroke-width="3"/>
<line x1="388" y1="1440.9" x2="388" y2="1453.6" stroke="#000" stroke-width="3"/>
<line x1="495.2" y1="1440.9" x2="495.2" y2="1453.6" stroke="#000" stroke-width="3"/>
<text x="86" y="1139.6" text-anchor="end">105</text>
<text x="86" y="1216.8" text-anchor="end">100</text>
<text x="86" y="1294.1" text-anchor="end">95</text>
<text x="86" y="1371.5" text-anchor="end">90</text>
<text x="86" y="1449.2" text-anchor="end">85</text>
<text x="173.5" y="1480.2" text-anchor="middle">0</text>
<text x="280.8" y="1480.2" text-anchor="middle">1</text>
<text x="388.4" y="1480.2" text-anchor="middle">2</text>
<text x="495.6" y="1480.2" text-anchor="middle">3</text>
<text x="333.5" y="1504.7" text-anchor="middle">Time (DPI)</text>
<text x="41.1" y="1289" text-anchor="middle" transform="rotate(-90 41.1 1289)" xml:space="preserve">% of  Initial Weight</text>
<line x1="388" y1="1240.2" x2="388" y2="1268.3" stroke="#ff0000" stroke-width="1.6"/>
<line x1="382" y1="1240.2" x2="394" y2="1240.2" stroke="#ff0000" stroke-width="1.6"/>
<line x1="382" y1="1268.3" x2="394" y2="1268.3" stroke="#ff0000" stroke-width="1.6"/>
<line x1="495.2" y1="1295.2" x2="495.2" y2="1355.2" stroke="#ff0000" stroke-width="1.6"/>
<line x1="489.2" y1="1295.2" x2="501.2" y2="1295.2" stroke="#ff0000" stroke-width="1.6"/>
<line x1="489.2" y1="1355.2" x2="501.2" y2="1355.2" stroke="#ff0000" stroke-width="1.6"/>
<polyline points="173.1,1208.5 280.4,1210 388,1254.6 495.2,1325" fill="none" stroke="#ff0000" stroke-width="3" stroke-linejoin="round"/>
<circle cx="173.1" cy="1208.5" r="6.2" fill="#ff0000"/>
<circle cx="280.4" cy="1210" r="6.2" fill="#ff0000"/>
<circle cx="388" cy="1254.6" r="6.2" fill="#ff0000"/>
<circle cx="495.2" cy="1325" r="6.2" fill="#ff0000"/>
<line x1="280.4" y1="1226.2" x2="280.4" y2="1260.3" stroke="#000" stroke-width="1.6"/>
<line x1="274.4" y1="1226.2" x2="286.4" y2="1226.2" stroke="#000" stroke-width="1.6"/>
<line x1="274.4" y1="1260.3" x2="286.4" y2="1260.3" stroke="#000" stroke-width="1.6"/>
<line x1="388" y1="1321.1" x2="388" y2="1344.6" stroke="#000" stroke-width="1.6"/>
<line x1="382" y1="1321.1" x2="394" y2="1321.1" stroke="#000" stroke-width="1.6"/>
<line x1="382" y1="1344.6" x2="394" y2="1344.6" stroke="#000" stroke-width="1.6"/>
<line x1="495.2" y1="1350.6" x2="495.2" y2="1394.7" stroke="#000" stroke-width="1.6"/>
<line x1="489.2" y1="1350.6" x2="501.2" y2="1350.6" stroke="#000" stroke-width="1.6"/>
<line x1="489.2" y1="1394.7" x2="501.2" y2="1394.7" stroke="#000" stroke-width="1.6"/>
<polyline points="173.1,1208.5 280.4,1243.6 388,1333 495.2,1372.9" fill="none" stroke="#000" stroke-width="3" stroke-linejoin="round"/>
<circle cx="173.1" cy="1208.5" r="6.2" fill="#000"/>
<circle cx="280.4" cy="1243.6" r="6.2" fill="#000"/>
<circle cx="388" cy="1333" r="6.2" fill="#000"/>
<circle cx="495.2" cy="1372.9" r="6.2" fill="#000"/>
<line x1="280.4" y1="1198.5" x2="280.4" y2="1203.6" stroke="#ff0000" stroke-width="1.6"/>
<line x1="274.4" y1="1198.5" x2="286.4" y2="1198.5" stroke="#ff0000" stroke-width="1.6"/>
<line x1="280.4" y1="1216.6" x2="280.4" y2="1221.5" stroke="#ff0000" stroke-width="1.6"/>
<line x1="274.4" y1="1221.5" x2="286.4" y2="1221.5" stroke="#ff0000" stroke-width="1.6"/>
<line x1="388" y1="1204" x2="388" y2="1208.5" stroke="#ff0000" stroke-width="1.6"/>
<line x1="382" y1="1204" x2="394" y2="1204" stroke="#ff0000" stroke-width="1.6"/>
<line x1="388" y1="1212.5" x2="388" y2="1217" stroke="#ff0000" stroke-width="1.6"/>
<line x1="382" y1="1217" x2="394" y2="1217" stroke="#ff0000" stroke-width="1.6"/>
<line x1="495.2" y1="1204.9" x2="495.2" y2="1210.1" stroke="#ff0000" stroke-width="1.6"/>
<line x1="489.2" y1="1204.9" x2="501.2" y2="1204.9" stroke="#ff0000" stroke-width="1.6"/>
<line x1="495.2" y1="1214.1" x2="495.2" y2="1219.3" stroke="#ff0000" stroke-width="1.6"/>
<line x1="489.2" y1="1219.3" x2="501.2" y2="1219.3" stroke="#ff0000" stroke-width="1.6"/>
<polyline points="173.1,1208.5 280.4,1210.1 388,1210.5 495.2,1212.1" fill="none" stroke="#d2d2d2" stroke-width="3" stroke-linejoin="round"/>
<circle cx="280.4" cy="1210.1" r="5.3" fill="none" stroke="#ff0000" stroke-width="2.8"/>
<circle cx="388" cy="1210.5" r="5.3" fill="none" stroke="#ff0000" stroke-width="2.8"/>
<circle cx="495.2" cy="1212.1" r="5.3" fill="none" stroke="#ff0000" stroke-width="2.8"/>
<line x1="280.4" y1="1193.5" x2="280.4" y2="1201.5" stroke="#d2d2d2" stroke-width="1.6"/>
<line x1="274.4" y1="1193.5" x2="286.4" y2="1193.5" stroke="#d2d2d2" stroke-width="1.6"/>
<line x1="280.4" y1="1214.5" x2="280.4" y2="1222.5" stroke="#d2d2d2" stroke-width="1.6"/>
<line x1="274.4" y1="1222.5" x2="286.4" y2="1222.5" stroke="#d2d2d2" stroke-width="1.6"/>
<line x1="388" y1="1170" x2="388" y2="1183.8" stroke="#d2d2d2" stroke-width="1.6"/>
<line x1="382" y1="1170" x2="394" y2="1170" stroke="#d2d2d2" stroke-width="1.6"/>
<line x1="388" y1="1196.8" x2="388" y2="1210.5" stroke="#d2d2d2" stroke-width="1.6"/>
<line x1="382" y1="1210.5" x2="394" y2="1210.5" stroke="#d2d2d2" stroke-width="1.6"/>
<line x1="495.2" y1="1190.9" x2="495.2" y2="1211" stroke="#d2d2d2" stroke-width="1.6"/>
<line x1="489.2" y1="1190.9" x2="501.2" y2="1190.9" stroke="#d2d2d2" stroke-width="1.6"/>
<line x1="495.2" y1="1224" x2="495.2" y2="1244" stroke="#d2d2d2" stroke-width="1.6"/>
<line x1="489.2" y1="1244" x2="501.2" y2="1244" stroke="#d2d2d2" stroke-width="1.6"/>
<polyline points="173.1,1208.5 280.4,1208 388,1190.3 495.2,1217.5" fill="none" stroke="#d2d2d2" stroke-width="3" stroke-linejoin="round"/>
<circle cx="173.1" cy="1208.5" r="5.4" fill="none" stroke="#000" stroke-width="3"/>
<circle cx="280.4" cy="1208" r="5.4" fill="none" stroke="#000" stroke-width="3"/>
<circle cx="388" cy="1190.3" r="5.4" fill="none" stroke="#000" stroke-width="3"/>
<circle cx="495.2" cy="1217.5" r="5.4" fill="none" stroke="#000" stroke-width="3"/>
<text x="389.6" y="1312.2" font-size="20" text-anchor="middle">*</text>
<line x1="113.3" y1="1313.1" x2="138.8" y2="1313.1" stroke="#d2d2d2" stroke-width="2.6"/>
<circle cx="126" cy="1313.1" r="5" fill="none" stroke="#000" stroke-width="2.8"/>
<line x1="113.3" y1="1346.6" x2="138.8" y2="1346.6" stroke="#d2d2d2" stroke-width="2.6"/>
<circle cx="126" cy="1346.6" r="5" fill="none" stroke="#ff0000" stroke-width="2.8"/>
<line x1="113.3" y1="1379.7" x2="138.8" y2="1379.7" stroke="#000" stroke-width="2.6"/>
<circle cx="126" cy="1379.7" r="5.4" fill="#000"/>
<line x1="113.3" y1="1413" x2="138.8" y2="1413" stroke="#ff0000" stroke-width="2.6"/>
<circle cx="126" cy="1413" r="5.4" fill="#ff0000"/>
<text x="145.2" y="1323.5">Mock Isotype</text>
<text x="145.2" y="1356.6">Mock α-IFNRA1</text>
<text x="145.2" y="1388.9">SARS-CoV-2 Isotype</text>
<text x="145.2" y="1422.8">SARS-CoV-2 α-IFNRA1</text>
</g>
<g id="panel-i">
<text x="657.6" y="1091" font-size="24.5" font-weight="bold">i</text>
<text x="832.3" y="1080.7" text-anchor="middle">SARS-CoV-2 Viral titers Day</text>
<text x="831.4" y="1108.8" text-anchor="middle">3 WT mice</text>
<line x1="707.3" y1="1126.3" x2="707.3" y2="1444.4" stroke="#000" stroke-width="3"/>
<line x1="693.8" y1="1127.8" x2="707.3" y2="1127.8" stroke="#000" stroke-width="3"/>
<line x1="693.8" y1="1233" x2="707.3" y2="1233" stroke="#000" stroke-width="3"/>
<line x1="693.8" y1="1338" x2="707.3" y2="1338" stroke="#000" stroke-width="3"/>
<line x1="692.3" y1="1442.9" x2="918.9" y2="1442.9" stroke="#000" stroke-width="3"/>
<line x1="767" y1="1442.9" x2="767" y2="1456.2" stroke="#000" stroke-width="3"/>
<line x1="857.1" y1="1442.9" x2="857.1" y2="1456.2" stroke="#000" stroke-width="3"/>
<text x="691" y="1140.2" text-anchor="end">10<tspan font-size="16.5" dy="-6.7">7</tspan></text>
<text x="691" y="1245" text-anchor="end">10<tspan font-size="16.5" dy="-6.7">6</tspan></text>
<text x="691" y="1349.4" text-anchor="end">10<tspan font-size="16.5" dy="-6.7">5</tspan></text>
<text x="691" y="1453.3" text-anchor="end">10<tspan font-size="16.5" dy="-6.7">4</tspan></text>
<text x="650.2" y="1258.9" text-anchor="middle" transform="rotate(-90 650.2 1258.9)">PFU/gr tissue</text>
<line x1="762.4" y1="1149.3" x2="866.7" y2="1149.3" stroke="#000" stroke-width="2.5"/>
<text x="819.6" y="1140.3" text-anchor="middle" font-style="italic">ns</text>
<line x1="766.9" y1="1194.9" x2="766.9" y2="1228" stroke="#000" stroke-width="1.5"/>
<line x1="751.9" y1="1194.9" x2="781.9" y2="1194.9" stroke="#000" stroke-width="1.5"/>
<line x1="751.9" y1="1228" x2="781.9" y2="1228" stroke="#000" stroke-width="1.5"/>
<line x1="737" y1="1208.1" x2="796.9" y2="1208.1" stroke="#000" stroke-width="3"/>
<circle cx="754.4" cy="1165" r="6.3" fill="#000"/>
<circle cx="779.5" cy="1176.8" r="6.3" fill="#000"/>
<circle cx="766.8" cy="1216.5" r="6.3" fill="#000"/>
<circle cx="766.8" cy="1230.6" r="6.3" fill="#000"/>
<circle cx="766.8" cy="1245.6" r="6.3" fill="#000"/>
<circle cx="754.4" cy="1271.7" r="6.3" fill="#000"/>
<circle cx="779.5" cy="1269.3" r="6.3" fill="#000"/>
<line x1="827" y1="1276.7" x2="886.8" y2="1276.7" stroke="#000" stroke-width="3"/>
<line x1="857" y1="1262.1" x2="857" y2="1297.2" stroke="#ff0000" stroke-width="1.5"/>
<line x1="842" y1="1262.1" x2="872" y2="1262.1" stroke="#ff0000" stroke-width="1.5"/>
<line x1="842" y1="1297.2" x2="872" y2="1297.2" stroke="#ff0000" stroke-width="1.5"/>
<circle cx="857.1" cy="1224.6" r="6.3" fill="#ff0000"/>
<circle cx="869.7" cy="1274.3" r="6.3" fill="#ff0000"/>
<circle cx="844.3" cy="1281.3" r="6.3" fill="#ff0000"/>
<circle cx="844.3" cy="1295.2" r="6.3" fill="#ff0000"/>
<circle cx="869.7" cy="1293.4" r="6.3" fill="#ff0000"/>
<circle cx="857.1" cy="1321.2" r="6.3" fill="#ff0000"/>
<circle cx="857.1" cy="1349.2" r="6.3" fill="#ff0000"/>
<text x="770.3" y="1463" text-anchor="end" transform="rotate(-90 770.3 1463)">Isotype</text>
<text x="867.1" y="1461.5" text-anchor="end" transform="rotate(-90 867.1 1461.5)">α-IFNRA1</text>
</g>
<g id="panel-j">
<text x="1040.6" y="1091.3" font-size="24.5" font-weight="bold">j</text>
<text x="1294.4" y="1081.4" text-anchor="middle">ISG54 mRNA</text>
<line x1="1142.8" y1="1123.5" x2="1142.8" y2="1452.1" stroke="#000" stroke-width="3"/>
<line x1="1128.8" y1="1125" x2="1142.8" y2="1125" stroke="#000" stroke-width="3"/>
<line x1="1128.8" y1="1206.6" x2="1142.8" y2="1206.6" stroke="#000" stroke-width="3"/>
<line x1="1128.8" y1="1287.7" x2="1142.8" y2="1287.7" stroke="#000" stroke-width="3"/>
<line x1="1128.8" y1="1369.3" x2="1142.8" y2="1369.3" stroke="#000" stroke-width="3"/>
<line x1="1127.3" y1="1450.6" x2="1464.2" y2="1450.6" stroke="#000" stroke-width="3"/>
<line x1="1191.4" y1="1450.6" x2="1191.4" y2="1463.6" stroke="#000" stroke-width="3"/>
<line x1="1265.1" y1="1450.6" x2="1265.1" y2="1463.6" stroke="#000" stroke-width="3"/>
<line x1="1339" y1="1450.6" x2="1339" y2="1463.6" stroke="#000" stroke-width="3"/>
<line x1="1412.9" y1="1450.6" x2="1412.9" y2="1463.6" stroke="#000" stroke-width="3"/>
<text x="1125" y="1134.4" text-anchor="end">0.04</text>
<text x="1125" y="1216" text-anchor="end">0.03</text>
<text x="1125" y="1297.1" text-anchor="end">0.02</text>
<text x="1125" y="1378.3" text-anchor="end">0.01</text>
<text x="1125" y="1457.4" text-anchor="end">0.00</text>
<text x="1071.8" y="1275.6" text-anchor="middle" transform="rotate(-90 1071.8 1275.6)">mRNA (REL/<tspan font-style="italic">β-Actin</tspan>)</text>
<line x1="1178.2" y1="1118.2" x2="1345" y2="1118.2" stroke="#000" stroke-width="2.5"/>
<text x="1262.4" y="1121.5" font-size="22.5" text-anchor="middle">*</text>
<line x1="1340.9" y1="1137" x2="1424.4" y2="1137" stroke="#000" stroke-width="2.5"/>
<text x="1381.1" y="1135.64" font-size="22" text-anchor="middle">**</text>
<line x1="1191.5" y1="1379.6" x2="1191.5" y2="1391.6" stroke="#000" stroke-width="1.9"/>
<line x1="1179" y1="1379.6" x2="1204" y2="1379.6" stroke="#000" stroke-width="1.9"/>
<line x1="1179" y1="1391.6" x2="1204" y2="1391.6" stroke="#000" stroke-width="1.9"/>
<line x1="1166.8" y1="1385.6" x2="1216.2" y2="1385.6" stroke="#000" stroke-width="3"/>
<circle cx="1174.1" cy="1375.3" r="6.2" fill="none" stroke="#000" stroke-width="3.6"/>
<circle cx="1210.2" cy="1387.3" r="6.2" fill="none" stroke="#000" stroke-width="3.6"/>
<circle cx="1174.1" cy="1395.7" r="6.2" fill="none" stroke="#000" stroke-width="3.6"/>
<line x1="1241.5" y1="1404.2" x2="1287.2" y2="1404.2" stroke="#000" stroke-width="3"/>
<line x1="1265.3" y1="1397.7" x2="1265.3" y2="1410.7" stroke="#ff0000" stroke-width="1.9"/>
<line x1="1252.8" y1="1397.7" x2="1277.8" y2="1397.7" stroke="#ff0000" stroke-width="1.9"/>
<line x1="1252.8" y1="1410.7" x2="1277.8" y2="1410.7" stroke="#ff0000" stroke-width="1.9"/>
<circle cx="1265.5" cy="1391.4" r="6.2" fill="none" stroke="#ff0000" stroke-width="3.6"/>
<circle cx="1283.6" cy="1407.8" r="6.2" fill="none" stroke="#ff0000" stroke-width="3.6"/>
<circle cx="1247.5" cy="1413.3" r="6.2" fill="none" stroke="#ff0000" stroke-width="3.6"/>
<line x1="1339.2" y1="1253.5" x2="1339.2" y2="1309.1" stroke="#000" stroke-width="1.5"/>
<line x1="1326.8" y1="1253.5" x2="1351.6" y2="1253.5" stroke="#000" stroke-width="1.5"/>
<line x1="1326.8" y1="1309.1" x2="1351.6" y2="1309.1" stroke="#000" stroke-width="1.5"/>
<line x1="1314.9" y1="1281.2" x2="1363.8" y2="1281.2" stroke="#000" stroke-width="3"/>
<circle cx="1339" cy="1200.1" r="6.5" fill="#000"/>
<circle cx="1339" cy="1236.2" r="6.5" fill="#000"/>
<circle cx="1339" cy="1290.4" r="6.5" fill="#000"/>
<circle cx="1321.4" cy="1340.9" r="6.5" fill="#000"/>
<circle cx="1357.5" cy="1340.2" r="6.5" fill="#000"/>
<line x1="1413.3" y1="1362.5" x2="1413.3" y2="1387.8" stroke="#ff0000" stroke-width="1.5"/>
<line x1="1401.05" y1="1362.5" x2="1425.55" y2="1362.5" stroke="#ff0000" stroke-width="1.5"/>
<line x1="1401.05" y1="1387.8" x2="1425.55" y2="1387.8" stroke="#ff0000" stroke-width="1.5"/>
<circle cx="1407.1" cy="1352.4" r="6.5" fill="#ff0000"/>
<circle cx="1431.6" cy="1354.8" r="6.5" fill="#ff0000"/>
<circle cx="1395.1" cy="1360.1" r="6.5" fill="#ff0000"/>
<circle cx="1419.1" cy="1360.8" r="6.5" fill="#ff0000"/>
<circle cx="1413.1" cy="1395.7" r="6.5" fill="#ff0000"/>
<circle cx="1413.1" cy="1428.2" r="6.5" fill="#ff0000"/>
<line x1="1389" y1="1375.3" x2="1437.7" y2="1375.3" stroke="#000" stroke-width="3"/>
<text x="1198.6" y="1469.9" font-size="22.5" text-anchor="end" transform="rotate(-90 1198.6 1469.9)">Isotype</text>
<text x="1274.7" y="1468.4" font-size="22.5" text-anchor="end" transform="rotate(-90 1274.7 1468.4)">α-IFNRA1</text>
<text x="1345.5" y="1469.9" font-size="22.5" text-anchor="end" transform="rotate(-90 1345.5 1469.9)">Isotype</text>
<text x="1420.8" y="1468.4" font-size="22.5" text-anchor="end" transform="rotate(-90 1420.8 1468.4)">α-IFNRA1</text>
<line x1="1173.6" y1="1575.8" x2="1278.1" y2="1575.8" stroke="#000" stroke-width="2.5"/>
<line x1="1325.7" y1="1575.8" x2="1429.7" y2="1575.8" stroke="#000" stroke-width="2.5"/>
<text x="1235" y="1604" text-anchor="middle">Mock</text>
<text x="1383" y="1604" text-anchor="middle">CoV-2</text>
</g>
<g id="panel-k">
<text x="1555" y="1071.7" font-size="24.5" font-weight="bold">k</text>
<text x="1757.6" y="1077.3" text-anchor="middle">CXCL10 mRNA</text>
<line x1="1611.5" y1="1127.6" x2="1611.5" y2="1453.8" stroke="#000" stroke-width="3"/>
<line x1="1598" y1="1129.1" x2="1611.5" y2="1129.1" stroke="#000" stroke-width="3"/>
<line x1="1598" y1="1210.2" x2="1611.5" y2="1210.2" stroke="#000" stroke-width="3"/>
<line x1="1598" y1="1290.4" x2="1611.5" y2="1290.4" stroke="#000" stroke-width="3"/>
<line x1="1598" y1="1370.9" x2="1611.5" y2="1370.9" stroke="#000" stroke-width="3"/>
<line x1="1596.5" y1="1452.3" x2="1931.4" y2="1452.3" stroke="#000" stroke-width="3"/>
<line x1="1660.8" y1="1452.3" x2="1660.8" y2="1465.5" stroke="#000" stroke-width="3"/>
<line x1="1734.2" y1="1452.3" x2="1734.2" y2="1465.5" stroke="#000" stroke-width="3"/>
<line x1="1807.4" y1="1452.3" x2="1807.4" y2="1465.5" stroke="#000" stroke-width="3"/>
<line x1="1880.8" y1="1452.3" x2="1880.8" y2="1465.5" stroke="#000" stroke-width="3"/>
<text x="1593.8" y="1139.5" text-anchor="end">0.08</text>
<text x="1593.8" y="1219.7" text-anchor="end">0.06</text>
<text x="1593.8" y="1299.5" text-anchor="end">0.04</text>
<text x="1593.8" y="1378.9" text-anchor="end">0.02</text>
<text x="1593.8" y="1459.3" text-anchor="end">0.00</text>
<text x="1534.4" y="1288.9" text-anchor="middle" transform="rotate(-90 1534.4 1288.9)">mRNA (REL/<tspan font-style="italic">β-Actin</tspan>)</text>
<line x1="1668.5" y1="1121.1" x2="1793.7" y2="1121.1" stroke="#000" stroke-width="2.5"/>
<text x="1728.2" y="1121.36" text-anchor="middle">****</text>
<line x1="1799" y1="1144.2" x2="1903.2" y2="1144.2" stroke="#000" stroke-width="2.5"/>
<text x="1842" y="1147.16" text-anchor="middle">****</text>
<line x1="1636" y1="1437.9" x2="1685" y2="1437.9" stroke="#000" stroke-width="3"/>
<circle cx="1642.5" cy="1437.8" r="6.2" fill="none" stroke="#000" stroke-width="3.6"/>
<circle cx="1660.6" cy="1437.8" r="6.2" fill="none" stroke="#000" stroke-width="3.6"/>
<circle cx="1678.6" cy="1437.8" r="6.2" fill="none" stroke="#000" stroke-width="3.6"/>
<line x1="1710" y1="1441.5" x2="1758" y2="1441.5" stroke="#000" stroke-width="3"/>
<circle cx="1715.9" cy="1443.9" r="6.2" fill="none" stroke="#ff0000" stroke-width="3.6"/>
<circle cx="1734" cy="1436.7" r="6.2" fill="none" stroke="#ff0000" stroke-width="3.6"/>
<circle cx="1752" cy="1443.2" r="6.2" fill="none" stroke="#ff0000" stroke-width="3.6"/>
<line x1="1807.5" y1="1232.6" x2="1807.5" y2="1277.8" stroke="#000" stroke-width="1.5"/>
<line x1="1795.35" y1="1232.6" x2="1819.65" y2="1232.6" stroke="#000" stroke-width="1.5"/>
<line x1="1795.35" y1="1277.8" x2="1819.65" y2="1277.8" stroke="#000" stroke-width="1.5"/>
<line x1="1782.9" y1="1255" x2="1832.2" y2="1255" stroke="#000" stroke-width="3"/>
<circle cx="1807.4" cy="1187.3" r="6.5" fill="#000"/>
<circle cx="1807.4" cy="1222.2" r="6.5" fill="#000"/>
<circle cx="1789.4" cy="1271.1" r="6.5" fill="#000"/>
<circle cx="1825.5" cy="1280.7" r="6.5" fill="#000"/>
<circle cx="1807.4" cy="1314.4" r="6.5" fill="#000"/>
<line x1="1856.3" y1="1423.4" x2="1905.6" y2="1423.4" stroke="#000" stroke-width="3"/>
<line x1="1881" y1="1417.9" x2="1881" y2="1428.7" stroke="#ff0000" stroke-width="1.5"/>
<line x1="1869" y1="1417.9" x2="1893" y2="1417.9" stroke="#ff0000" stroke-width="1.5"/>
<line x1="1869" y1="1428.7" x2="1893" y2="1428.7" stroke="#ff0000" stroke-width="1.5"/>
<circle cx="1886.9" cy="1397.4" r="6.5" fill="#ff0000"/>
<circle cx="1874.8" cy="1409.7" r="6.5" fill="#ff0000"/>
<circle cx="1862.8" cy="1421" r="6.5" fill="#ff0000"/>
<circle cx="1874.8" cy="1428.2" r="6.5" fill="#ff0000"/>
<circle cx="1898.9" cy="1433.1" r="6.5" fill="#ff0000"/>
<circle cx="1886.9" cy="1436.2" r="6.5" fill="#ff0000"/>
<circle cx="1862.8" cy="1438.3" r="6.5" fill="#ff0000"/>
<text x="1667.8" y="1470.8" font-size="22.5" text-anchor="end" transform="rotate(-90 1667.8 1470.8)">Isotype</text>
<text x="1743.9" y="1470.8" font-size="22.5" text-anchor="end" transform="rotate(-90 1743.9 1470.8)">α-IFNRA1</text>
<text x="1814.6" y="1470.8" font-size="22.5" text-anchor="end" transform="rotate(-90 1814.6 1470.8)">Isotype</text>
<text x="1890" y="1470.8" font-size="22.5" text-anchor="end" transform="rotate(-90 1890 1470.8)">α-IFNRA1</text>
<line x1="1642.5" y1="1575.8" x2="1746.8" y2="1575.8" stroke="#000" stroke-width="2.5"/>
<line x1="1794.2" y1="1575.8" x2="1898.4" y2="1575.8" stroke="#000" stroke-width="2.5"/>
<text x="1704.1" y="1603.8" text-anchor="middle">Mock</text>
<text x="1858.7" y="1603.8" text-anchor="middle">CoV-2</text>
</g>
</svg>
</body>
</html>
